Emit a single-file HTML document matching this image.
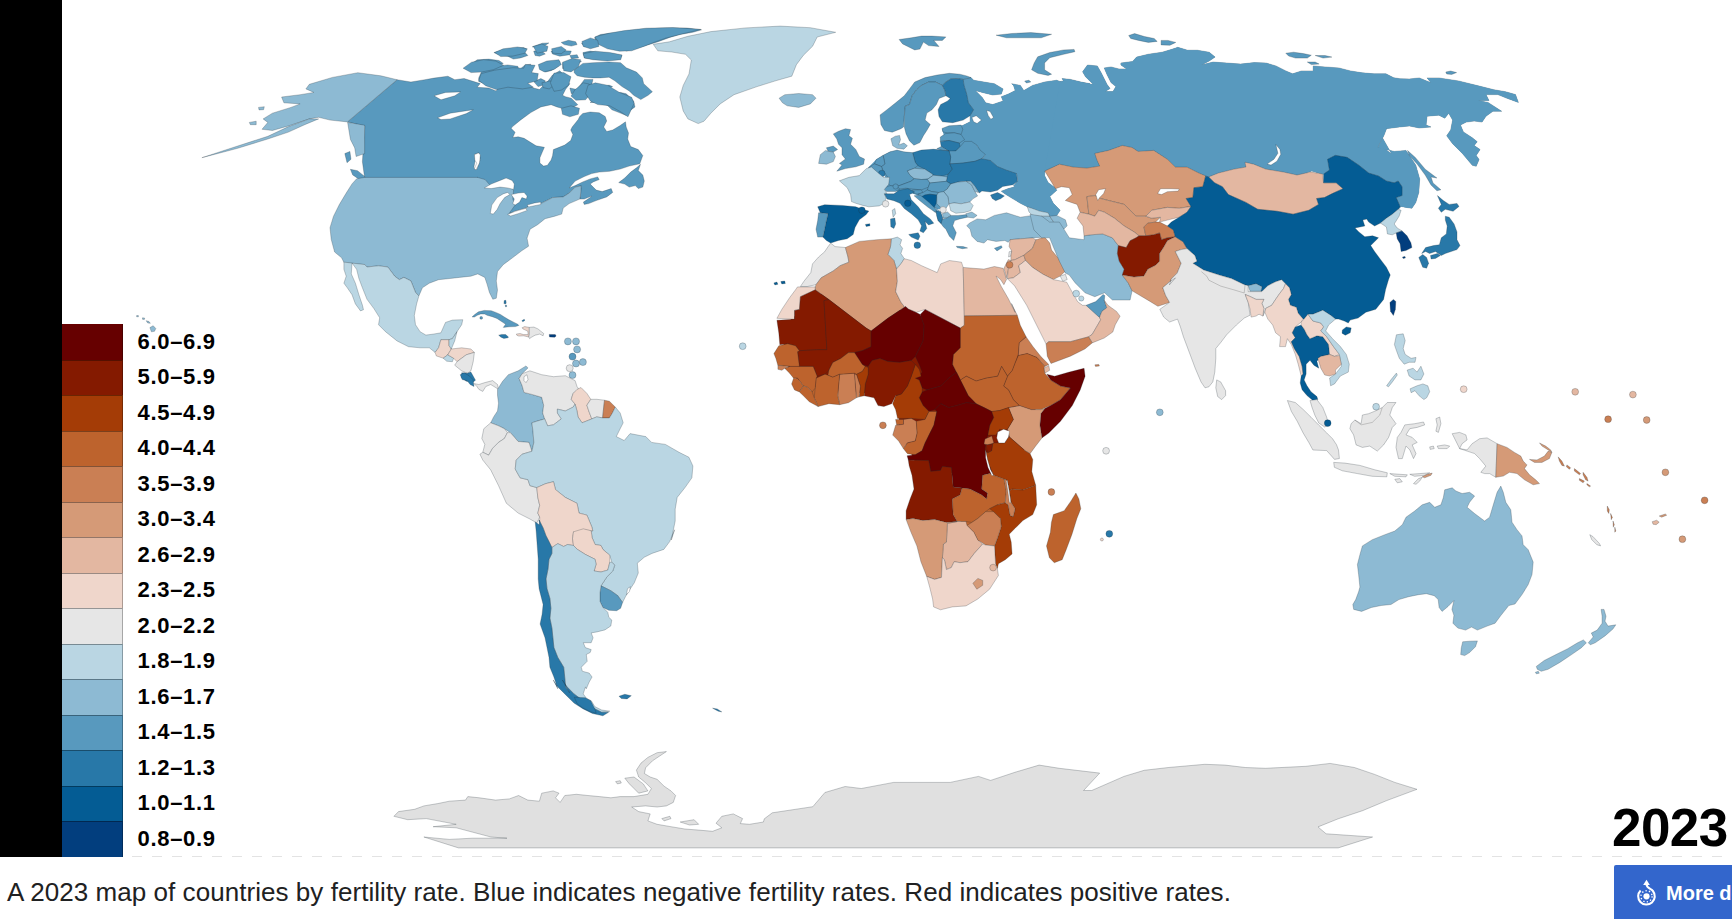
<!DOCTYPE html>
<html lang="en"><head><meta charset="utf-8"><title>Fertility rate map 2023</title>
<style>
html,body{margin:0;padding:0;background:#fff;}
body{width:1732px;height:919px;position:relative;overflow:hidden;font-family:"Liberation Sans",sans-serif;}
#bar{position:absolute;left:0;top:0;width:62px;height:857px;background:#000;}
#map{position:absolute;left:0;top:0;width:1732px;height:919px;}
#map .p{stroke:#1c2a33;stroke-width:.45;stroke-opacity:.55;stroke-linejoin:round;}
#map .n{stroke:none;}
#legend{position:absolute;left:62px;top:324px;width:200px;}
#legend .row{height:35.5px;display:flex;align-items:center;}
#legend .sw{display:block;width:61px;height:35.5px;box-sizing:border-box;border-top:1px solid rgba(0,0,0,.35);border-right:1px solid rgba(0,0,0,.28);}
#legend .row:first-child .sw{border-top:none;}
#legend .lb{margin-left:14.5px;font-weight:700;font-size:22px;letter-spacing:.7px;color:#000;position:relative;top:.1px;}
#dash{position:absolute;left:132px;top:856px;width:1600px;height:1px;background:repeating-linear-gradient(90deg,#e3e3e3 0,#e3e3e3 10px,transparent 10px,transparent 20px);}
#cap{position:absolute;left:7px;top:877px;font-size:26px;letter-spacing:.05px;color:#202122;white-space:nowrap;line-height:30px;}
#year{position:absolute;left:1612px;top:798px;font-size:53px;font-weight:700;color:#000;line-height:60px;white-space:nowrap;letter-spacing:-.6px;}
#btn{position:absolute;left:1614px;top:865px;width:130px;height:60px;background:#3366cc;border-radius:2px;color:#fff;font-weight:700;font-size:20px;white-space:nowrap;}
#btn span{position:absolute;left:52px;top:15px;line-height:26px;}
#btn svg{position:absolute;left:22px;top:14px;}
</style></head><body>
<svg id="map" viewBox="0 0 1732 919" width="1732" height="919">
<polygon class="p" fill="#5899be" points="397.1,79.7 410.9,82 424.8,79.7 434,78.1 447.9,76.2 454.8,79.7 464.1,78.5 480.2,83.6 477.2,87.3 488.8,88 496.1,90.9 499,86.6 510.5,83 522.1,83.7 533.7,88 539.5,89.5 548.2,80.8 552.5,75 559.8,70.7 564.1,75 562.6,82.2 569.9,83.7 565.5,89.5 562.6,95.3 565.5,96.7 571.3,98.2 577.8,104.7 571.3,108.3 562.6,108.6 556.9,106.9 551.1,104.7 540.9,106.9 530.8,112.6 520.7,119.9 512,127.1 511.3,128.5 515.1,132.3 512.8,137.5 518.1,136.8 524.1,138.3 530.1,142.1 536.1,145.8 544.4,147.3 542.1,152.6 539.9,157.8 539.9,163.1 543.6,166.1 547.4,165.3 551.1,160.1 552.6,155.6 553.4,149.6 557.2,148.1 564.7,145.1 570.7,140.6 572.9,134.5 570.7,130 572.2,127 578.2,119.5 579.7,116.5 582.7,113.5 590.2,112 599.2,112.8 605.2,116.5 606.7,121 603.7,127 606.7,131.5 612.7,130 620.2,125.5 625.5,121.8 626.2,127 628.5,133 627.7,139.1 630.7,146.6 638.3,149.6 642.8,155.6 639.8,163.8 629.2,166.1 620.2,169.1 609.7,171.3 599.2,172.1 591.7,173.6 584.2,176.6 575.2,181.1 569.2,187.9 575.2,185.6 582.7,181.9 590.2,178.9 597.7,176.9 599.2,179.6 593.2,181.9 590.2,184.1 596.2,190.1 602.2,191.6 611.2,188.6 612.7,192.4 606.7,196.9 596.2,200.6 588.7,203.6 584.2,204.4 583.4,202.1 590.2,197.6 591.7,196.1 584.2,199.1 579.7,199.1 580.4,196.1 581.2,185.9 575.2,187.1 569.2,193.1 563.2,196.9 552.6,197.6 540.6,203.6 528.6,206.6 525.6,208.1 515.1,211.1 508.3,214.1 503.1,205.1 500.1,193.1 485.1,190.1 477.5,179.6 440,179.6 364.8,179 362.4,161.7 363.6,143.2 364.8,125.9 347.4,121.9"/>
<polygon class="p" fill="#5899be" points="618.7,182.6 624.7,178.1 630.7,172.1 636.8,167.6 640.5,164.3 638.3,170.6 642.8,175.1 644.3,181.1 642.8,187.1 638.3,188.6 635.3,185.6 629.2,187.1 624.7,184.1"/>
<polygon class="p" fill="#8dbad3" points="397.1,79.7 380.9,75.8 357.8,72.7 332.4,77.4 309.3,84.3 305.9,88.9 313.9,92.4 300.1,94.7 281.6,97 283.9,102.8 300.1,103.9 290.9,107.4 272.4,113.2 263.1,118.9 267.8,122.4 262,129.3 272.4,130.5 288.5,125.9 309.3,118.9 318.6,117.3 330.1,120.1 347.4,121.9"/>
<polygon class="p" fill="#8dbad3" points="309.3,118.9 288.5,126.6 267.8,136.3 237.7,146 201.9,157.7 237.7,148.3 267.8,139 288.5,132.1 304.7,124.7 318.6,118.9"/>
<polygon class="p" fill="#8dbad3" points="347.6,122.4 364.6,125.2 364.6,153.6 356.1,156.5 354.7,147.9 350.4,139.4 349,130.9"/>
<polygon class="p" fill="#5899be" points="344.8,153.6 349.9,151.4 351,159.3 347,162.7"/>
<polygon class="p" fill="#5899be" points="350.4,169.3 357.5,170.7 364.6,176.4 365.2,180.6 359,179.2 352.7,174.9"/>
<polygon class="p" fill="#8dbad3" points="249.3,122.4 256.2,121.2 256.2,124.7 250.4,124.7"/>
<polygon class="p" fill="#8dbad3" points="258.5,107.4 264.3,106.7 263.6,109.7 259,109.9"/>
<polygon class="p" fill="#ffffff" points="434,95.8 445.6,92.4 460.6,91.9 454.8,95.8 441,99.8"/>
<polygon class="p" fill="#ffffff" points="437.5,117.8 450.2,113.2 473.3,109.7 466.4,113.6 450.2,118.9 441,119.6"/>
<polygon class="p" fill="#ffffff" points="474.5,154.3 479.1,152.9 480.2,159.4 476.8,169.7 473.8,167.4 475.2,160.5"/>
<polygon class="p" fill="#5899be" points="616.2,33 629.2,30.9 643.7,29 665.4,28 687.1,28 701.6,29.8 692.9,32.3 679.9,34.5 669.8,37.4 658.2,41.7 646.6,45.3 636.5,48.2 626.3,51.1 622,49 614.8,47.5 609,46.1 600.3,44.6 595.9,41 594.5,37.4 600.3,34.5 609,33.3"/>
<polygon class="p" fill="#5899be" points="582.9,52.6 590.2,51.1 600.3,52.6 614.8,54 622,55.5 620.6,57.9 609,59.1 594.5,59.1 584.4,57.9"/>
<polygon class="p" fill="#5899be" points="493.9,52.6 503.3,49.7 513.4,48.2 523.6,47.5 526.5,49 519.2,51.1 525,52.6 527.9,55.5 520.7,57.9 513.4,59.1 507.6,56.2 499,54.7"/>
<polygon class="p" fill="#5899be" points="532.2,46.8 542.4,43.2 548.9,42.9 545.3,45.3 536.6,47.5"/>
<polygon class="p" fill="#5899be" points="533.7,51.1 540.9,50.4 545.3,54 539.5,56.2 535.1,55.5"/>
<polygon class="p" fill="#5899be" points="561.2,42.4 568.4,40.3 575.7,41.7 577.1,44.6 571.3,46.1 564.1,44.6"/>
<polygon class="p" fill="#5899be" points="551.1,51.1 559.8,50.4 571.3,51.1 569.9,54.7 559.8,56.2 552.5,54"/>
<polygon class="p" fill="#5899be" points="581.5,43.2 588.7,42.4 591.6,45.3 584.4,46.8"/>
<polygon class="p" fill="#5899be" points="569.9,55.5 577.1,54.7 578.6,57.9 571.3,58.4"/>
<polygon class="p" fill="#5899be" points="470,64.9 477.2,59.8 488.8,59.1 499,60.5 503.3,63.4 496.1,65.6 484.5,67.8 475.8,70.7 470,71.8"/>
<polygon class="p" fill="#5899be" points="478.7,77.9 481.6,71.4 496.1,66.3 507.6,64.9 517.8,66.3 519.2,69.9 525,64.9 530.8,64.2 527.9,70.7 525,75.7 530.8,77.9 522.1,81.5 512,81.5 499,83.7 487.4,84.4 478.7,81.5"/>
<polygon class="p" fill="#5899be" points="539.5,66.3 548.2,62.7 559.8,61.3 558.3,66.3 551.1,70.7 545.3,72.1"/>
<polygon class="p" fill="#5899be" points="562.6,63.4 571.3,61.3 581.5,61.3 574.2,66.3 567,69.2 562.6,68.5"/>
<polygon class="p" fill="#5899be" points="533.7,81.5 540.9,78.6 545.3,80.8 543.8,85.1 538,86.6"/>
<polygon class="p" fill="#5899be" points="574.2,69.9 582.9,63.4 593,62.7 609,62 620.6,62.7 626.3,67.8 636.5,72.1 642.3,77.9 643.7,83.7 652.4,91.7 648.1,95.3 640.8,99.6 633.6,95.3 629.2,90.9 622,86.6 614.8,80.8 609,77.2 600.3,77.9 593,77.9 584.4,77.2 577.1,75.7 574.2,72.8"/>
<polygon class="p" fill="#5899be" points="620.6,92.4 626.3,93.8 633.6,101.1 635,106.9 629.2,111.2 626.3,115.5 619.1,112.6 611.9,109.8 607.5,105.4 600.3,102.5 590.2,102.5 594.5,98.9 607.5,98.2 611.9,93.8"/>
<polygon class="p" fill="#5899be" points="577.1,89.5 584.4,79.4 593,79.4 591.6,85.1 585.8,89.5 580,92.4 571.3,93.8 569.9,88"/>
<polygon class="p" fill="#5899be" points="602.5,87.3 609,85.1 612.6,86.6 607.5,89.5 603.2,89.8"/>
<polygon class="p" fill="#8dbad3" points="364.7,177.4 477.8,177.4 477.5,177.4 485.1,179.6 491.1,186.4 507.6,185.6 513.6,190.1 512.8,199.1 515.1,205.1 509.1,213.4 518.1,211.9 526.4,208.4 527.9,205.9 540.9,203.6 552.6,197.6 563.2,196.9 569.2,193.1 575.2,187.1 581.2,185.9 580.4,196.1 579.7,199.1 569.2,203.6 563.2,208.1 561.7,214.1 554.1,216.4 545.1,218.7 537.6,224.7 530.1,229.2 527.1,238 527,237.9 528.6,246.2 521.7,250.8 512.5,257.8 503.2,264.7 497.5,271.6 496.3,280.9 497.5,290.1 496.3,298.2 492.8,299.3 489.4,292.4 487.1,284.3 484.8,277.4 477.8,273.9 470.9,276.2 459.4,277.4 450.1,278.5 438.6,279.7 429.3,283.2 422.4,287.8 418.9,295.9 415.5,292.4 410.9,280.9 403.9,277.4 399.3,279.7 394.7,276.2 387.8,267 378.5,265.8 367,267 364.7,264.7 343.9,262.4 341.6,257.8 334.6,252 331.2,239.3 330,227.7 333.5,216.2 339.3,204.6 346.2,193.1 352,183.9 356.6,178.8"/>
<polygon class="p" fill="#ffffff" points="484.3,187.9 491.1,184.1 500.1,180.4 506.1,178.1 512.1,180.4 514.3,184.1 513.6,189.4 507.6,187.9 500.1,187.1 491.1,188.6"/>
<polygon class="p" fill="#ffffff" points="490.3,213.4 491.8,205.1 497.1,197.6 503.1,193.9 507.6,192.4 509.8,194.6 504.6,197.6 500.1,203.6 497.1,209.6 493.3,214.1"/>
<polygon class="p" fill="#ffffff" points="511.3,194.6 518.1,193.1 524.1,192.4 527.1,196.1 526.4,199.1 521.9,197.6 519.6,202.1 515.1,205.1 512.8,203.6 514.3,199.1"/>
<polygon class="p" fill="#ffffff" points="507.6,214.4 515.1,211.4 525.6,208.4 527.1,210.4 518.1,213.7 510.6,216"/>
<polygon class="p" fill="#ffffff" points="527.1,205.1 534.6,202.9 540.6,202.1 540.9,204.4 533.1,206 528.6,206.9"/>
<polygon class="p" fill="#ffffff" points="474.5,154.8 478.3,152.9 480.3,154.8 479.4,163.1 476,169.8 474.2,169.1 476.8,163.1 474.8,160.1"/>
<polygon class="p" fill="#bad6e3" points="352,263.1 364.7,264.5 367,267 378.5,265.8 387.8,267 394.7,276.2 399.3,279.7 403.9,277.4 410.9,280.9 415.5,292.4 418.9,295.9 416.6,303.9 414.3,315.5 415.5,324.7 420.1,331.7 425.9,335.1 433.9,334 440.9,332.8 445.5,322.4 452.4,320.1 462.8,319.7 461.7,324.7 457,331.7 452.4,338.6 449,339.7 440.9,339.7 438.6,347.8 435.1,352.4 429.3,347.8 420.1,347.8 408.5,346.7 397,340.9 385.5,331.7 378.5,324.7 379.7,317.8 373.9,308.6 367,299.3 362.4,287.8 358.9,278.5 356.6,269.3"/>
<polygon class="p" fill="#bad6e3" points="343.9,262.1 352,263.1 351.3,273.9 355.4,283.2 358.9,294.7 362.4,305.1 363.5,309.7 360.5,310.9 355.4,303.9 352,294.7 347.3,287.8 343.9,283.2 346.2,276.2 343.9,269.3"/>
<polygon class="p" fill="#efd6cb" points="440.9,339.7 449,339.7 449,345.5 451.3,349 447.8,354.8 443.2,358.2 436.3,355.9 435.1,352.4 438.6,347.8"/>
<polygon class="p" fill="#bad6e3" points="449,339.7 452.4,338.6 457,331.7 454.7,340.9 451.3,349 449,345.5"/>
<polygon class="p" fill="#bad6e3" points="443.2,358.2 447.8,354.8 453.6,358.2 452.4,361.7 446.7,361.2"/>
<polygon class="p" fill="#efd6cb" points="451.3,349 461.7,347.8 470.9,349 474.4,352.4 466.3,354.8 461.7,358.2 457,361.7 453.6,358.2 447.8,354.8"/>
<polygon class="p" fill="#e6e6e6" points="457,361.7 461.7,358.2 466.3,354.8 474.4,352.4 473.2,361.7 470.9,370.9 467.4,373.2 461.7,370.9 454.7,365.2"/>
<polygon class="p" fill="#2878a8" points="461.7,372.8 467.4,373.2 470.9,372.1 475.5,380.2 473.2,382 466.3,381.3 461.7,377.9"/>
<circle class="p" fill="#8dbad3" cx="567.9" cy="341.4" r="3.5"/>
<circle class="p" fill="#8dbad3" cx="576" cy="341.4" r="3.5"/>
<circle class="p" fill="#8dbad3" cx="577.1" cy="349.4" r="3.5"/>
<circle class="p" fill="#8dbad3" cx="576" cy="363.5" r="3.5"/>
<circle class="p" fill="#8dbad3" cx="582.9" cy="362.1" r="3.5"/>
<circle class="p" fill="#8dbad3" cx="572.5" cy="375.1" r="3.5"/>
<circle class="p" fill="#5899be" cx="572.5" cy="356.6" r="3.5"/>
<circle class="p" fill="#e6e6e6" cx="569.7" cy="368.2" r="3.5"/>
<polygon class="p" fill="#bad6e3" points="653.2,44.3 669.4,41.8 687.9,36.3 710.9,31.6 745.6,27.9 780.2,26.1 810.3,27.7 835.7,32.3 817.2,37 812.6,46.2 803.3,55.4 796.4,64.7 791.8,76.2 775.6,80.8 757.1,86.6 734,94.7 720.2,103.9 710.9,113.2 704,121.2 698.2,123.6 687.9,118.9 683.2,110.9 679.8,97 683.2,85.5 689,73.9 691.3,60 685.5,54.3 671.7,52 657.8,50.8"/>
<polygon class="p" fill="#8dbad3" points="779.1,98.2 784.8,94.7 798.7,93.5 812.6,94.7 816,98.2 810.3,103.9 798.7,107.4 787.2,105.8 782.5,102.8"/>
<polygon class="p" fill="#5899be" points="478.8,80.4 481.2,73.6 494.6,70.2 512.8,67.7 523.7,68.2 525.4,64.4 535.1,65.3 531.7,72.6 538.3,73.6 537.1,80.8 527.8,83.3 533.4,87.2 522.5,88.9 507.9,87.2 496.3,89.6 485.6,85.7"/>
<polygon class="p" fill="#5899be" points="538.3,64.6 546.8,61 558.9,59.7 561.3,64.6 554,69.4 544.3,71.9 539.5,69.4"/>
<polygon class="p" fill="#5899be" points="562.5,62.2 572.2,58.5 580.7,59.7 578.3,67 571,71.9 563.7,70.7"/>
<polygon class="p" fill="#5899be" points="541.9,82.8 550.4,80.8 554,85.2 549.2,88.9 543.1,87.6"/>
<polygon class="p" fill="#5899be" points="554,73.1 563.7,72.6 571,76.7 568.6,85.2 561.3,90.1 554,91.3 550.4,82.8"/>
<polygon class="p" fill="#5899be" points="574.7,90.1 583.2,82.8 589.2,84 591.6,92.5 585.6,99.8 575.9,100.3 571,96.1"/>
<polygon class="p" fill="#5899be" points="561.3,108.3 571,105.8 579.5,108.3 578.3,114.3 569.8,116.8 562.5,114.3"/>
<polygon class="p" fill="#5899be" points="595.3,82.8 607.4,85.2 619.6,92.5 631.7,97.3 634.1,103.4 628,116.8 620.8,111.9 609.8,105.8 597.7,104.6 590.4,101 585.6,93.7 588,85.2"/>
<polygon class="p" fill="#5899be" points="583.2,53.7 595.3,51.2 609.8,52.5 622,54.9 620.8,59.7 607.4,61 592.9,59.7 584.4,58"/>
<polygon class="p" fill="#5899be" points="595.3,36.7 609.8,33.1 624.4,30.6 646.2,28.2 672.9,27.5 700.8,29.4 682.6,33.8 665.7,38.1 653.5,42.5 643.8,46.4 631.7,50.8 619.6,51.2 607.4,48.8 597.7,44"/>
<polygon class="p" fill="#5899be" points="581.9,41.5 590.4,37.9 597.7,40.3 598.9,46.4 590.4,48.8 583.2,46.4"/>
<polygon class="p" fill="#5899be" points="494.6,52.5 503.1,48.8 517.6,46.9 527.3,48.8 524.9,53.2 512.8,56.1 500.7,56.6"/>
<polygon class="p" fill="#5899be" points="533.4,46.4 541.9,44 548,46.4 546.8,51.2 537.1,53.2"/>
<polygon class="p" fill="#5899be" points="551.6,48.8 561.3,46.4 566.2,50 561.3,53.7 552.8,53.2"/>
<polygon class="p" fill="#5899be" points="463.1,68.2 471.5,62.2 483.7,59.7 495.8,61 503.6,65.3 493.4,69.7 481.2,72.1 471.1,72.6"/>
<polygon class="p" fill="#5899be" points="472.1,317 474.4,314.7 478.5,311.8 484.2,310.4 491.2,310.7 495.8,312.4 500.4,314.4 503.9,316.7 508.5,319.6 513.1,321.9 517.7,324.2 518.9,325.4 515.4,326.6 509.1,326.8 503.3,327.4 505.6,324.2 503.9,323.1 500.4,320.8 497,318.5 492.3,316.7 487.1,315.3 484.8,314.1 480.8,313.9 477.3,315.3 474.4,317"/>
<circle class="p" fill="#5899be" cx="481.2" cy="317.9" r="1.4"/>
<polygon class="p" fill="#2878a8" points="498.7,335.2 501.6,334.4 505.6,334.6 508.5,337 507.9,337.8 503.9,338.4 501,337.2"/>
<polygon class="p" fill="#efd6cb" points="516.3,334.1 520,333.5 523.5,334.6 528.1,334.6 527.8,331.2 522.9,328.9 522.1,327.7 524.7,326.6 529.3,327.4 529.3,334.6 528.7,337 523.5,335.8 518.9,336.1 516.9,335.3"/>
<polygon class="p" fill="#e6e6e6" points="529.3,327.4 533.9,327.1 537.9,328.9 540.8,331.2 543.7,333.5 543.1,335.8 539.7,334.1 535.1,335.2 531,337.5 529.6,338.7 528.7,337 529.3,334.6"/>
<polygon class="p" fill="#023e7e" points="549.2,334.4 555.3,334.6 556.1,336.1 554.7,337.2 549.5,337"/>
<polygon class="p" fill="#2878a8" points="504.2,300.6 505.9,300.3 506.2,302.9 505.6,304 503.9,303.5"/>
<polygon class="p" fill="#2878a8" points="505.3,305.2 506.5,305.2 506.7,306.6 505.5,306.8"/>
<polygon class="p" fill="#2878a8" points="521.8,320.8 524.1,319.3 525,320.2 522.9,321.8"/>
<polygon class="p" fill="#2878a8" points="460.2,374.7 464.2,372.8 469.1,375.7 473,379.6 474,386.5 470.1,384.5 467.1,380.6 462.2,379.6"/>
<polygon class="p" fill="#e6e6e6" points="474,383.6 478.9,384.5 484.8,382.6 492.6,380.6 497.5,384.5 498.5,389.4 495.6,387.5 490.7,384.5 485.8,386.5 482.8,391.4 478.9,389.4 476.9,386.5"/>
<polygon class="p" fill="#8dbad3" points="497.5,389.4 502.4,381.6 508.3,374.7 518.2,370.8 526,365.9 528,367.9 522.1,373.7 519.1,378.6 522.1,385.5 524,392.4 531.9,394.4 541.7,397.3 543.7,405.2 542.7,413 544.7,418.9 537.8,420.9 531.9,422.8 532.9,430.7 533.9,442.4 531.9,451.3 529,442.4 518.2,441.5 510.3,432.6 504.4,428.7 498.5,425.8 490.7,422.8 493.6,416.9 497.5,411 498.5,403.2 497.5,395.3"/>
<polygon class="p" fill="#e6e6e6" points="519.1,378.6 522.1,373.7 529.9,370.8 541.7,374.7 553.5,376.7 565.3,375.7 575.1,380.6 577,386.5 579,389.4 573.1,393.4 571.2,399.3 575.1,404.2 573.1,407.1 565.3,411 557.4,409.1 557.4,413 561.3,418.9 553.5,424.8 547.6,425.8 544.7,418.9 542.7,413 543.7,405.2 541.7,397.3 531.9,394.4 524,392.4 522.1,385.5"/>
<polygon class="p" fill="#ffffff" points="524,376.7 527,374.7 528,379.6 526,382.6 524,380.6"/>
<polygon class="p" fill="#efd6cb" points="577,389.4 581,387.5 586.9,393.4 590.8,399.3 586.9,405.2 588.8,411 591.8,418.9 586.9,420.9 582,422.8 578,416.9 577,411 575.1,404.2 571.2,399.3 573.1,393.4"/>
<polygon class="p" fill="#e6e6e6" points="590.8,399.3 596.7,399.3 604.5,400.2 603.5,409.1 602.6,417.9 596.7,416.9 591.8,418.9 588.8,411 586.9,405.2"/>
<polygon class="p" fill="#ca7f54" points="604.5,400.2 609.4,401.2 615.3,407.1 612.4,413 609.4,417.9 602.6,417.9 603.5,409.1"/>
<polygon class="p" fill="#e6e6e6" points="490.7,422.8 498.5,425.8 504.4,428.7 507.4,432.6 504.4,438.5 498.5,442.4 492.6,448.3 488.7,455.2 482.8,452.3 484.8,444.4 481.8,438.5 483.8,428.7"/>
<polygon class="p" fill="#e6e6e6" points="482.8,452.3 488.7,455.2 492.6,448.3 498.5,442.4 504.4,438.5 507.4,432.6 510.3,432.6 518.2,441.5 529,442.4 531.9,451.3 522.1,454.2 516.2,460.1 515.2,469 520.1,477.8 528,479.7 529.9,485.6 536.8,487.6 537.8,497.4 539.7,505.3 537.8,513.1 539.7,517 536.8,522.9 529.9,519 518.2,513.1 506.4,503.3 498.5,485.6 490.7,469.9 482.8,460.1 479.9,454.2"/>
<polygon class="p" fill="#bad6e3" points="531.9,422.8 537.8,420.9 544.7,418.9 547.6,425.8 553.5,424.8 561.3,418.9 557.4,413 557.4,409.1 565.3,411 573.1,407.1 575.1,404.2 577,411 578,416.9 582,422.8 586.9,420.9 591.8,418.9 596.7,416.9 602.6,417.9 609.4,417.9 612.4,413 615.3,407.1 620.2,413 623.2,422.8 620.2,428.7 616.3,436.6 624.2,440.5 630.1,433.6 645.8,436.6 651.6,442.4 665.4,444.4 679.1,452.3 688.9,457.2 692.9,466 691.9,477.8 685,487.6 677.2,497.4 675.2,509.2 675.2,521 673.2,530.8 671.3,540 674.6,529.8 669.7,541.6 663.8,549.4 652,553.4 644.2,557.3 637.3,563.2 638.3,573 634.3,582.8 630.4,588.7 625.5,596.6 622.6,602.4 617.7,595.6 610.8,590.7 601,585.8 606.9,576.9 612.8,571 614.7,565.2 611.8,562.2 609.8,555.3 602.9,549.4 601,545.5 595.1,544.5 592.1,537.7 591.2,530.8 592.8,530.8 591.8,526.9 586.9,515.1 579,513.1 577,503.3 565.3,497.4 555.5,489.6 553.5,481.7 545.6,483.7 536.8,487.6 529.9,485.6 528,479.7 520.1,477.8 515.2,469 516.2,460.1 522.1,454.2 531.9,451.3 533.9,442.4 532.9,430.7"/>
<polygon class="p" fill="#efd6cb" points="536.8,487.6 545.6,483.7 553.5,481.7 555.5,489.6 565.3,497.4 577,503.3 579,513.1 586.9,515.1 591.8,526.9 592.8,530.8 582.9,529.8 575.1,532.8 573.5,531.8 572.5,538.6 573.5,545.5 567.6,544.5 563.7,546.5 557.8,543.6 551.9,547.5 549,541.6 546,535.7 543.1,527.9 539.1,520 539.7,524.9 539.7,517 537.8,513.1 539.7,505.3 537.8,497.4"/>
<polygon class="p" fill="#efd6cb" points="573.5,531.8 583.3,528.8 591.2,530.8 592.1,537.7 595.1,544.5 601,545.5 602.9,549.4 609.8,555.3 609.8,562.2 607.8,570.1 601,572 594.1,571 596.1,564.2 595.1,559.3 585.3,554.4 577.4,549.4 573.5,545.5 572.5,538.6"/>
<polygon class="p" fill="#5899be" points="601,585.8 610.8,590.7 617.7,595.6 622.6,602.4 620.6,608.3 616.7,610.7 608.8,610.3 602.9,607.4 600,601.5 600,592.6"/>
<polygon class="p" fill="#bad6e3" points="551.9,547.5 557.8,543.6 563.7,546.5 567.6,544.5 573.5,545.5 577.4,549.4 585.3,554.4 595.1,559.3 596.1,564.2 594.1,571 601,572 607.8,570.1 609.8,562.2 611.8,562.2 614.7,565.2 612.8,571 606.9,576.9 601,585.8 600,592.6 600,601.5 602.9,607.4 607.8,612.3 608.8,617.2 611.8,620.1 610.8,626 604.9,629.9 597,631.9 591.2,632.9 593.1,637.8 591.2,642.7 583.3,642.7 585.3,647.6 591.2,649.6 590.2,652.5 586.3,654.5 587.2,661.3 581.3,667.2 582.3,671.2 589.2,673.1 592.1,677 589.2,682 586.3,688.8 585.5,686.9 583.2,693.9 586.7,698.5 591.3,700.8 594.8,706.6 601.7,710 609.8,711.2 601.7,712.3 592.5,707.7 583.2,700.8 574,693.9 567.1,686.9 562.4,680 569.6,692.8 565.6,686.9 564.7,677 563.7,667.2 557.8,657.4 553.9,647.6 552.9,637.8 551.9,628 549.9,618.2 550.9,608.3 549.9,598.5 547,588.7 546,578.9 548,569.1 549,559.3 551.9,553.4"/>
<polygon class="p" fill="#2878a8" points="536.8,522.9 539.7,524.9 539.1,520 543.1,527.9 546,535.7 549,541.6 551.9,547.5 551.9,553.4 549,559.3 548,569.1 546,578.9 547,588.7 549.9,598.5 550.9,608.3 549.9,618.2 551.9,628 552.9,637.8 553.9,647.6 557.8,657.4 563.7,667.2 564.7,677 565.6,686.9 569.6,692.8 562.4,680 567.1,686.9 574,693.9 583.2,700.8 592.5,707.7 601.7,712.3 608.6,712.3 602.9,715.8 592.5,713.5 583.2,708.9 574,703.1 564.8,693.9 557.8,686.9 553.2,680 557.8,688.8 553.9,677 549.9,667.2 549,657.4 547,647.6 545,637.8 540.1,624 542.1,614.2 543.1,604.4 539.1,588.7 538.2,578.9 538.2,559.3 537.2,545.5 536.2,531.8 535.2,522"/>
<polygon class="p" fill="#ffffff" points="627.5,588.7 630.4,586.7 629.4,591.7 626.5,594.6"/>
<polygon class="p" fill="#2878a8" points="619,696.2 624.8,694.3 631.3,695.7 627.1,698.9 621.3,698.5"/>
<polygon class="p" fill="#2878a8" points="712.6,708.2 717.2,708.9 721.8,711.9 718.3,711.2"/>
<polygon class="p" fill="#2878a8" points="574.4,697.3 585.3,697.7 590.7,700.7 594.8,708.8 596.2,713.2 590.7,711.8 582.6,707.8 577.1,703.7"/>
<circle class="p" fill="#bad6e3" cx="742.7" cy="346.2" r="3.4"/>
<polygon class="p" fill="#5899be" points="971,77.6 973.6,80.2 984,82 994.4,83.7 1003.1,88.9 1001.3,94.1 992.7,95 982.3,92.4 975.3,90.6 982.3,97.6 985.7,102.8 992.7,104.5 1003.1,101 1001.3,96.7 1008.3,94.1 1015.2,90.6 1013.5,85.4 1011.7,83.7 1020.4,85.4 1023.8,90.6 1032.5,85.4 1044.6,82 1056.8,80.2 1065.4,83.7 1062,78.5 1070.6,79.4 1081,82 1090,83.7 1090,166.8 1075.8,166.8 1060.2,163.4 1049.8,168.6 1044.6,172 1044.6,175.6 1048.1,182.5 1055,187.7 1056.8,190.3 1049.8,196.4 1053.3,203.3 1060.2,210.2 1056.8,215.4 1049.8,216.3 1048.1,212.8 1039.4,211.1 1032.5,208.5 1027.3,206.8 1020.4,203.3 1011.7,198.1 1004.8,193.8 1001.3,191.2 1008.3,188.6 1015.2,186.8 1013.5,186 1017.8,180.8 1016.9,173.8 1006.5,170.3 997.9,166.8 990.9,160.8 982.3,159 985.7,154.7 980.5,151.3 977.1,145.2 971.9,142.6 965,142.6 965,140.9 961.5,135.7 963.2,130.5 961.5,126.1 970.1,121.8 970.1,115.7 973.6,109.7 968.4,102.8 966.7,94.1 964.1,85.4 963.2,79.4"/>
<polygon class="p" fill="#5899be" points="1060,81.7 1067.9,79.7 1081.6,82.6 1093.4,84.6 1085.5,76.7 1082.6,71.8 1087.5,65 1097.3,65.9 1101.2,72.8 1107.1,84.6 1110.1,88.5 1105.2,91.5 1113,91.5 1115.9,86.6 1111,82.6 1107.1,74.8 1104.2,67.9 1111,66.9 1118.9,68.9 1126.7,68.9 1120.9,65 1120.9,63 1132.6,61.4 1136.6,57.1 1148.3,54.2 1162.1,52.2 1171.9,49.3 1177.8,47.3 1187.6,50.2 1197.4,50.2 1209.2,52.2 1215.1,57.1 1209.2,61 1201.3,65 1213.1,62 1226.9,63 1240.6,64 1254.3,62.6 1266.1,63 1275.9,65.9 1285.8,70.9 1292.6,73.8 1301.5,70.9 1313.2,70.9 1313.2,65.9 1325,66.9 1338.8,67.9 1350.5,70.9 1362.3,72.8 1374.1,73.8 1385.9,73.8 1393.7,77.7 1400,78.7 1409.4,78.9 1419.3,77.9 1431,82.8 1427.1,77.9 1438.9,77.9 1458.5,80.9 1478.2,85.8 1493.9,89.7 1505.6,91.7 1515.5,94.6 1518.4,102.4 1507.6,98.5 1497.8,94.6 1486,94.6 1489,100.5 1478.2,100.5 1488,102.4 1501.7,111.3 1492.9,111.3 1486,116.2 1482.1,122.1 1474.2,121.1 1466.4,122.1 1460.5,125 1463.4,131.9 1472.3,137.8 1477.2,141.7 1474.2,145.6 1480.1,149.6 1476.2,155.5 1479.1,159.4 1476.2,166.3 1472.3,165.3 1462.4,153.5 1452.6,143.7 1446.7,135.8 1450.7,129.9 1452.6,120.1 1448.7,113.2 1444.8,118.2 1438.9,115.2 1427.1,116.2 1426.1,125 1431,127 1419.3,128 1409.4,126 1399.6,127 1383.9,129 1386.9,127.8 1383.9,135.6 1378,147.4 1385.9,149.4 1391.8,154.3 1382.4,137.7 1377.5,147.5 1386.4,149.4 1394.2,151.4 1406,150.4 1415.8,165.2 1419.7,178.9 1418.8,192.6 1415.8,202.4 1411.9,208.3 1406,207.4 1401.1,206.4 1398.2,209.3 1400.1,206.4 1396.2,197.5 1402.1,195.6 1402.1,186.7 1398.2,180.9 1394.2,182.8 1386.4,180.9 1378.5,175.9 1368.7,173 1358.9,165.2 1347.1,157.3 1335.3,155.3 1327.5,159.3 1329.4,170.1 1323.6,174 1321.6,174 1311.8,171 1300,175 1297,175 1283.2,172 1265.6,169.1 1253.8,164.2 1245,162.2 1245.9,167.1 1234.2,169.1 1218.5,173 1208.6,176.9 1205.7,175.9 1198.8,173 1187,167.1 1175.3,167.1 1167.4,159.3 1153.7,150.4 1138,151.4 1132.1,147.5 1122.3,145.5 1108.5,150.4 1094.8,153.4 1096.7,159.3 1099.7,166.1 1086.9,168.1 1073.2,167.1 1059.4,164.2 1044.7,171"/>
<polygon class="n" fill="#5899be" points="971,77.6 973.6,80.2 984,82 994.4,83.7 1003.1,88.9 1001.3,94.1 992.7,95 982.3,92.4 975.3,90.6 982.3,97.6 985.7,102.8 992.7,104.5 1003.1,101 1001.3,96.7 1008.3,94.1 1015.2,90.6 1013.5,85.4 1011.7,83.7 1020.4,85.4 1023.8,90.6 1032.5,85.4 1044.6,82 1056.8,80.2 1065.4,83.7 1062,78.5 1070.6,79.4 1081,82 1090,83.7 1090,166.8 1075.8,166.8 1060.2,163.4 1049.8,168.6 1044.6,172 1044.6,175.6 1048.1,182.5 1055,187.7 1056.8,190.3 1049.8,196.4 1053.3,203.3 1060.2,210.2 1056.8,215.4 1049.8,216.3 1048.1,212.8 1039.4,211.1 1032.5,208.5 1027.3,206.8 1020.4,203.3 1011.7,198.1 1004.8,193.8 1001.3,191.2 1008.3,188.6 1015.2,186.8 1013.5,186 1017.8,180.8 1016.9,173.8 1006.5,170.3 997.9,166.8 990.9,160.8 982.3,159 985.7,154.7 980.5,151.3 977.1,145.2 971.9,142.6 965,142.6 965,140.9 961.5,135.7 963.2,130.5 961.5,126.1 970.1,121.8 970.1,115.7 973.6,109.7 968.4,102.8 966.7,94.1 964.1,85.4 963.2,79.4"/>
<polygon class="n" fill="#5899be" points="1060,81.7 1067.9,79.7 1081.6,82.6 1093.4,84.6 1085.5,76.7 1082.6,71.8 1087.5,65 1097.3,65.9 1101.2,72.8 1107.1,84.6 1110.1,88.5 1105.2,91.5 1113,91.5 1115.9,86.6 1111,82.6 1107.1,74.8 1104.2,67.9 1111,66.9 1118.9,68.9 1126.7,68.9 1120.9,65 1120.9,63 1132.6,61.4 1136.6,57.1 1148.3,54.2 1162.1,52.2 1171.9,49.3 1177.8,47.3 1187.6,50.2 1197.4,50.2 1209.2,52.2 1215.1,57.1 1209.2,61 1201.3,65 1213.1,62 1226.9,63 1240.6,64 1254.3,62.6 1266.1,63 1275.9,65.9 1285.8,70.9 1292.6,73.8 1301.5,70.9 1313.2,70.9 1313.2,65.9 1325,66.9 1338.8,67.9 1350.5,70.9 1362.3,72.8 1374.1,73.8 1385.9,73.8 1393.7,77.7 1400,78.7 1409.4,78.9 1419.3,77.9 1431,82.8 1427.1,77.9 1438.9,77.9 1458.5,80.9 1478.2,85.8 1493.9,89.7 1505.6,91.7 1515.5,94.6 1518.4,102.4 1507.6,98.5 1497.8,94.6 1486,94.6 1489,100.5 1478.2,100.5 1488,102.4 1501.7,111.3 1492.9,111.3 1486,116.2 1482.1,122.1 1474.2,121.1 1466.4,122.1 1460.5,125 1463.4,131.9 1472.3,137.8 1477.2,141.7 1474.2,145.6 1480.1,149.6 1476.2,155.5 1479.1,159.4 1476.2,166.3 1472.3,165.3 1462.4,153.5 1452.6,143.7 1446.7,135.8 1450.7,129.9 1452.6,120.1 1448.7,113.2 1444.8,118.2 1438.9,115.2 1427.1,116.2 1426.1,125 1431,127 1419.3,128 1409.4,126 1399.6,127 1383.9,129 1386.9,127.8 1383.9,135.6 1378,147.4 1385.9,149.4 1391.8,154.3 1382.4,137.7 1377.5,147.5 1386.4,149.4 1394.2,151.4 1406,150.4 1415.8,165.2 1419.7,178.9 1418.8,192.6 1415.8,202.4 1411.9,208.3 1406,207.4 1401.1,206.4 1398.2,209.3 1400.1,206.4 1396.2,197.5 1402.1,195.6 1402.1,186.7 1398.2,180.9 1394.2,182.8 1386.4,180.9 1378.5,175.9 1368.7,173 1358.9,165.2 1347.1,157.3 1335.3,155.3 1327.5,159.3 1329.4,170.1 1323.6,174 1321.6,174 1311.8,171 1300,175 1297,175 1283.2,172 1265.6,169.1 1253.8,164.2 1245,162.2 1245.9,167.1 1234.2,169.1 1218.5,173 1208.6,176.9 1205.7,175.9 1198.8,173 1187,167.1 1175.3,167.1 1167.4,159.3 1153.7,150.4 1138,151.4 1132.1,147.5 1122.3,145.5 1108.5,150.4 1094.8,153.4 1096.7,159.3 1099.7,166.1 1086.9,168.1 1073.2,167.1 1059.4,164.2 1044.7,171"/>
<polygon class="p" fill="#ffffff" points="971.9,117.5 976.2,115.7 981.4,120.1 977.1,123.5 973.6,121.8"/>
<polygon class="p" fill="#ffffff" points="986.6,110.5 990.1,111.4 993.5,117.5 990.9,119.2 988.3,115.7"/>
<polygon class="p" fill="#5899be" points="899.1,39.5 911.3,37.8 921.6,36.1 932,36.1 945.9,36.9 942.4,40.4 933.8,40.4 939,46.5 928.6,45.6 923.4,42.1 919.9,49.1 914.7,49.9 907.8,46.5 902.6,43.9"/>
<polygon class="p" fill="#5899be" points="996.1,35.2 1011.7,33.5 1030.8,32.6 1051.6,34.3 1041.2,37.8 1023.8,37.8 1006.5,37.8"/>
<polygon class="p" fill="#5899be" points="1037.7,56.8 1049.8,52.5 1063.7,49.9 1074.1,49.4 1074.9,51.7 1063.7,54.3 1049.8,57.7 1044.6,62.9 1044.6,69.8 1051.6,74.2 1048.1,75.4 1037.7,73.3 1031.6,69.8 1034.2,62.9"/>
<polygon class="p" fill="#5899be" points="1024.7,81.1 1029,80.2 1030.8,82 1026.4,83"/>
<polygon class="p" fill="#5899be" points="880.1,114.9 887,109.7 895.7,102.8 904.3,95.8 909.5,88.9 914.7,82 925.1,77.6 937.2,75 949.4,73.3 959.8,74.2 966.7,75.9 971,77.6 963.2,79.4 956.3,78.5 951.1,78.8 945.9,82 942.4,85.4 935.5,82 928.6,82 921.6,85.4 916.5,89.8 912.1,95.8 909.5,104.5 905.2,106.2 904.3,116.6 903.5,127 900.9,128.7 892.2,132.2 884.4,130.5 880.9,124.4"/>
<polygon class="p" fill="#5899be" points="905.2,106.2 909.5,104.5 912.1,95.8 916.5,89.8 921.6,85.4 928.6,82 935.5,82 942.4,85.4 945,90.6 945.9,95.8 939,98.4 936.4,104.5 932,109.7 926.8,113.1 925.1,120.1 930.3,124.4 926.8,130.5 923.4,135.7 919.9,142.6 913.9,145.2 909.5,140.9 906.1,133.9 904.3,127 904.3,116.6"/>
<polygon class="p" fill="#2878a8" points="942.4,85.4 945.9,82 951.1,78.8 956.3,78.5 963.2,79.4 964.1,85.4 966.7,94.1 968.4,102.8 973.6,109.7 970.1,115.7 963.2,120.1 952.8,122.7 942.4,121.8 939,116.6 938.1,109.7 940.7,104.5 947.6,101 950.2,98.4 945.9,95.8 945,90.6"/>
<polygon class="p" fill="#5899be" points="833.3,133.9 838.5,131.3 845.4,128.7 850.6,129.6 848.9,135.7 852.4,138.3 850.6,144.3 855.8,149.5 859.3,156.5 864.5,159 863.6,164.2 855.8,166.8 845.4,168.6 836.8,171.2 842,165.1 839.4,163.4 845.4,159 842,154.7 842,147.8 838.5,144.3 836.8,139.1"/>
<polygon class="p" fill="#5899be" points="826.4,147.8 833.3,146.1 837.6,149.5 833.3,152.1 828.1,151.3"/>
<polygon class="p" fill="#8dbad3" points="818.6,163.4 820.3,154.7 825.5,150.4 828.1,151.3 833.3,152.1 835.4,156.5 833.3,161.6 826.4,164.2"/>
<polygon class="n" fill="#5899be" points="876.2,159.6 890.1,151.8 912.6,152.7 933.4,149.2 949,150.9 942,129.3 961.1,125 971.5,141.4 985.3,154.4 981.9,158.7 955.9,184.7 949,198.6 945.5,209 931.6,209 921.3,196.8 912.6,193.4 897,191.6 883.1,188.2 886.6,181.3 883.1,170.9 868.4,167.4"/>
<polygon class="p" fill="#8dbad3" points="890.9,138.8 895.3,136.2 899.6,135.4 900.5,139.7 898.7,144.9 903.9,143.1 907.4,145.7 903.9,149.2 897,148.3 892.7,145.7"/>
<polygon class="p" fill="#5899be" points="942,128.4 949,125.8 961.1,125 962.8,129.3 961.1,134.5 954.2,132.8 947.2,132.8 942.9,131.9"/>
<polygon class="p" fill="#5899be" points="940.3,137.1 945.5,133.6 954.2,132.8 961.1,134.5 964.6,139.7 959.4,143.1 949,140.5 940.3,141.4"/>
<polygon class="p" fill="#2878a8" points="940.3,141.4 949,140.5 959.4,143.1 960.2,146.6 955.9,150.9 949.8,151.8 945.5,149.2 941.2,146.6"/>
<polygon class="p" fill="#5899be" points="936.8,148.7 941.2,146.6 945.5,149.2 949.8,151.8 949,150.9 942,150.4"/>
<polygon class="p" fill="#5899be" points="950.7,157 949,150.9 955.9,150.9 960.2,146.6 964.6,141.4 971.5,141.4 976.7,144.9 980.1,150.1 985.3,154.4 981.9,158.7 975,161.3 962.8,163.1 952.4,163.9 949.8,163.9"/>
<polygon class="p" fill="#2878a8" points="912.6,152.7 921.3,150.1 933.4,149.2 949,150.9 950.7,157 949.8,163.9 952.4,169.1 948.1,174.3 942,176.1 933.4,175.2 931.6,173.5 924.7,169.1 917.8,165.7 915.2,162.2"/>
<polygon class="p" fill="#2878a8" points="948.1,174.3 952.4,169.1 949.8,163.9 962.8,163.1 975,161.3 981.9,158.7 990.5,160.5 997.5,166.5 1006.1,170 1016.5,173.5 1017.4,181.3 1013.1,184.7 1002.7,186.5 997.5,190.3 990.5,192 981.9,191 979.3,193 975,186.5 970.6,181.3 966.3,181.3 957.6,182.1 950.7,183.9 946.4,181.3 947.2,176.9"/>
<polygon class="p" fill="#2878a8" points="990.5,195.1 997.5,192.5 1004.4,196 1000.9,198.6 995.7,200.7 992.3,198.6"/>
<polygon class="p" fill="#5899be" points="884.9,163.9 883.1,155.3 890.1,151.8 897,150.1 903.9,151.8 912.6,152.7 915.2,162.2 917.8,165.7 914.3,168.3 907.4,170.9 910,175.2 914.3,178.7 910.9,181.3 903.9,183.9 897,186.5 890.1,185.6 886.6,181.3 888.3,177.8 883.1,170.9 881.4,166.5"/>
<polygon class="p" fill="#5899be" points="876.2,159.6 883.1,155.3 884.9,163.9 881.4,166.5 874.5,163.9"/>
<polygon class="p" fill="#5899be" points="868.4,167.4 874.5,163.9 881.4,166.5 883.1,170.9 877.9,174.3 872.8,170.9"/>
<circle class="p" fill="#2878a8" cx="881.8" cy="173.5" r="3.3"/>
<polygon class="p" fill="#8dbad3" points="907.4,170.9 914.3,168.3 924.7,169.1 931.6,173.5 933.4,175.2 928.2,178.7 921.3,179.5 914.3,178.7 910,175.2"/>
<polygon class="p" fill="#8dbad3" points="927.3,179.5 933.4,175.2 942,176.1 947.2,176.9 946.4,181.3 938.6,182.1 929.9,183"/>
<polygon class="p" fill="#5899be" points="897,186.5 903.9,183.9 910.9,181.3 914.3,178.7 921.3,179.5 927.3,179.5 929.9,183 928.2,187.3 921.3,189.9 912.6,189 905.7,188.2 899.6,189"/>
<polygon class="p" fill="#5899be" points="928.2,187.3 929.9,183 938.6,182.1 946.4,181.3 950.7,183.9 947.2,189 943.8,191.6 938.6,192.5 931.6,191.6 927.3,189.9"/>
<polygon class="p" fill="#5899be" points="912.6,189.9 921.3,189.9 923,192.5 917.8,194.2 913.5,193.4"/>
<polygon class="p" fill="#5899be" points="917.8,194.2 923,192.5 927.3,189.9 931.6,191.6 938.6,192.5 936.8,195.1 929.9,194.2 924.7,195.1 928.2,200.3 933.4,205.5 929.9,204.6 924.7,200.3 921.3,196.8"/>
<polygon class="p" fill="#045c94" points="921.3,196.8 924.7,195.1 929.9,194.2 936.8,195.1 936.8,197.7 936,203.8 933.4,209 928.2,203.8 923,199.4"/>
<polygon class="p" fill="#8dbad3" points="936.8,195.1 938.6,192.5 943.8,191.6 948.1,196.8 949,203.8 945.5,209 940.3,207.2 936.8,203.8 936.8,197.7"/>
<polygon class="p" fill="#8dbad3" points="943.8,191.6 947.2,189 950.7,183.9 957.6,182.1 966.3,181.3 971.5,184.7 975,191.6 977.6,196 973.2,198.6 969.8,202 961.1,203.8 954.2,202.9 949,203.8 948.1,196.8"/>
<polygon class="p" fill="#8dbad3" points="966.3,181.3 970.6,181.3 975,186.5 978.4,192.5 975,191.6 971.5,184.7"/>
<polygon class="p" fill="#bad6e3" points="949,203.8 954.2,202.9 961.1,203.8 969.8,202 973.2,205.5 970.6,210.7 964.6,212.4 955.9,213.3 950.7,210.7"/>
<polygon class="p" fill="#5899be" points="883.1,188.2 890.1,185.6 897,186.5 899.6,189 895.3,191.6 886.6,191.6"/>
<circle class="p" fill="#5899be" cx="895.6" cy="186.5" r="2.6"/>
<polygon class="p" fill="#bad6e3" points="839.4,180.8 848.9,177.3 859.3,175.6 866.2,168.7 871.4,166.9 878.3,173 883.5,177.3 889.6,177.3 888.7,184.3 884.4,189.4 887,193.8 884.4,193.8 886.1,198.1 884.4,203.3 879.2,205.9 868.8,206.8 862.8,205.4 855.8,203.3 851.5,201.6 850.6,194.6 847.2,187.7"/>
<polygon class="p" fill="#bad6e3" points="892.2,210.2 894.8,208.5 895.7,213.7 893.1,217.2"/>
<circle class="p" fill="#e6e6e6" cx="885.6" cy="203.8" r="3.3"/>
<polygon class="p" fill="#045c94" points="817.7,206.8 824.6,204.7 842,205.4 855.8,206.8 862.8,209.4 868.8,211.1 866.2,214.6 859.3,219.8 855,227.6 853.2,234.5 847.2,238.8 838.5,240.5 830.7,243.1 826.4,240.5 822.9,237.1 824.6,229.3 826.4,220.6 828.1,213.7 820.3,212.8"/>
<polygon class="p" fill="#5899be" points="818.6,212.8 820.3,212.8 828.1,213.7 826.4,220.6 824.6,229.3 822.9,237.1 817.7,237.1 816,229.3 817.7,220.6"/>
<circle class="p" fill="#045c94" cx="861.9" cy="210.2" r="3.3"/>
<polygon class="p" fill="#045c94" points="865.4,224.4 869.7,223.7 870,225.8 866.2,226.5"/>
<polygon class="p" fill="#2878a8" points="884.4,193.8 893.9,193.8 899.1,190.3 907.8,188.6 914.7,192 909.5,194.6 911.3,199.8 918.2,206.8 923.4,213.7 930.3,218.9 933.8,223.2 928.6,225 925.1,221.5 926.8,228.4 923.4,232.8 919.9,231 921.6,225.8 918.2,219.8 911.3,213.7 904.3,208.5 900,203.3 893.9,200.7 887,199"/>
<polygon class="p" fill="#2878a8" points="908.7,234.5 918.2,232.8 919.9,236.2 918.2,240 911.3,237.1"/>
<polygon class="p" fill="#2878a8" points="890.5,218.9 894.8,218 895.7,224.1 893.9,228.4 890.8,226.7"/>
<circle class="p" fill="#045c94" cx="907.8" cy="203.3" r="3.3"/>
<circle class="p" fill="#2878a8" cx="917.3" cy="245.2" r="3.3"/>
<polygon class="p" fill="#8dbad3" points="932.9,210.2 935.5,207.6 939,210.2 937.2,213.7"/>
<circle class="p" fill="#e6e6e6" cx="943" cy="209.9" r="3.3"/>
<polygon class="p" fill="#2878a8" points="937.2,212 940.7,213.7 942.4,218.9 940.7,223.2 938.1,220.6 937.2,215.4"/>
<polygon class="p" fill="#8dbad3" points="942.4,213.7 947.6,212 951.1,215.4 946.8,218 943.3,218"/>
<polygon class="p" fill="#5899be" points="940.7,223.2 942.4,218.9 946.8,218 951.1,215.4 958,215.4 966.7,214.6 967.6,217.2 959.8,218.9 954.6,220.6 952.8,225.8 956.3,232.8 953.7,240.5 949.4,236.2 945.9,229.3 943.3,226.7"/>
<polygon class="p" fill="#5899be" points="956.3,246.3 963.2,246.6 967.6,248 962.4,248.7 957.2,247.6"/>
<polygon class="p" fill="#8dbad3" points="969.3,223.2 977.1,218.9 985.7,219.8 994.4,215.4 1006.5,212.8 1020.4,217.2 1032.5,215.4 1041.2,216.3 1044.6,220.6 1049.8,225.8 1044.6,229.3 1044.6,237.1 1032.5,237.9 1020.4,238.8 1010,239.7 1008.3,242.3 1004.8,240.5 996.1,241.4 987.5,239.7 984,243.1 977.1,241.4 971.9,236.2 970.1,229.3 966.7,225.8"/>
<polygon class="p" fill="#8dbad3" points="965.8,213.7 971.9,212 977.1,215.4 973.6,218 967.6,217.2"/>
<polygon class="p" fill="#5899be" points="994.4,248.3 1001.3,245.7 1002.2,247.5 997,250.9"/>
<polygon class="p" fill="#bad6e3" points="1027.3,206.8 1032.5,208.5 1039.4,211.1 1048.1,212.8 1049.8,216.3 1041.2,216.3 1032.5,215.4 1029,212"/>
<polygon class="p" fill="#8dbad3" points="1041.2,216.3 1049.8,216.3 1055,224.1 1051.6,226.7 1046.4,222.4"/>
<polygon class="p" fill="#8dbad3" points="1049.8,216.3 1056.8,215.4 1065.4,219.8 1067.2,225.8 1063.7,229.3 1060.2,225.8 1055,224.1"/>
<polygon class="p" fill="#5899be" points="914.1,195.8 920.2,195 929.2,202.5 936.7,210 935.2,212.3 927.7,207 920.2,201"/>
<polygon class="p" fill="#2878a8" points="935.9,210.8 940.4,211.5 942.7,217.5 941.2,223.6 938.2,220.6 936.7,216"/>
<polygon class="n" fill="#841a00" points="786.7,323.1 820.7,294 905.6,311 959,327.9 1014.8,318.2 1041.5,364.3 1036.6,405.6 1024.5,449.3 988.1,473.5 920.1,473.5 910.4,451.7 898.3,429.8 899.5,410.4 895.9,394.7 823.1,391 796.4,378.9 781.8,357.1"/>
<polygon class="n" fill="#bd632d" points="810.7,387.1 816.2,387.1 817.3,400.3 811.8,395.9"/>
<polygon class="n" fill="#bd632d" points="954.2,498.9 997.4,498.9 1001.3,526.4 977.8,542.1 962.1,526.4"/>
<polygon class="p" fill="#e6e6e6" points="830.7,243.1 835,246.6 845.4,247.5 848,257 848.9,262.2 840.2,265.7 833.3,270.9 821.2,277.8 816,284.7 807.3,286.5 800.4,286.5 803.9,281.3 810.8,272.6 812.5,263.9 818.6,257 824.6,251.8 828.1,246.6"/>
<polygon class="p" fill="#bad6e3" points="891.3,238.8 897.4,237.1 901.7,239.7 900,244.9 902.6,248.3 900.9,253.5 904.3,258.7 900.9,263.9 897.4,267.4 896.5,269.1 893.9,260.5 887.9,254.4 890.5,246.6"/>
<polygon class="p" fill="#d59a77" points="845.4,247.5 859.3,241.4 876.6,239.7 891.3,238.8 890.5,246.6 887.9,254.4 893.9,260.5 896.5,269.1 897.4,281.3 895.7,291.6 900.9,302 906.1,309 905.5,306.5 887.8,318.3 871.1,331 866.2,328.1 828.9,299.6 815.2,289.8 815.2,286.9 816,284.7 821.2,277.8 833.3,270.9 840.2,265.7 848.9,262.2 848,257"/>
<polygon class="p" fill="#efd6cb" points="896.5,269.1 900.9,263.9 904.3,258.7 911.3,260.5 921.6,265.7 937.2,272.6 940.7,263.9 949.4,260.5 961.5,262.2 963.2,267.4 964.3,315.9 964.3,325.2 960.4,328.1 925.1,309.4 916.3,312.4 908.4,309.1 905.5,306.5 906.1,309 900.9,302 895.7,291.6 897.4,281.3"/>
<polygon class="p" fill="#e3b7a1" points="963.2,267.4 973.6,268.3 984,269.1 994.4,266.5 1003.1,268.3 1006.5,279.5 1003.9,284.7 1000.5,279.5 996.1,276.1 1001.3,286.5 1008.3,298.6 1015.2,312.4 1011.5,303.6 1017.3,315.3 964.3,315.9"/>
<polygon class="p" fill="#efd6cb" points="776.9,318.3 781.8,309.4 789.6,297.7 795.5,289.8 797.5,286.9 815.2,286.9 815.2,289.8 800.4,296.7 799.4,309.4 794.5,310.4 794.5,319.3"/>
<polygon class="p" fill="#841a00" points="776.9,320.2 794.5,319.3 794.5,310.4 799.4,309.4 800.4,296.7 815.2,289.8 828.9,299.6 824,300.6 826.9,349.7 819.1,349.7 799.4,350.7 795.5,345.8 787.7,343.8 779.8,344.8 778.8,333"/>
<polygon class="p" fill="#841a00" points="824,300.6 828.9,299.6 866.2,328.1 871.1,331 871.1,346.7 862.3,350.7 854.4,352.6 848.5,352.6 840.7,358.5 832.8,362.4 828.9,370.3 825,374.2 817.1,376.2 813.2,366.4 799.4,366.4 797.5,351.7 799.4,350.7 819.1,349.7 826.9,349.7"/>
<polygon class="p" fill="#660000" points="871.1,331 887.8,318.3 905.5,306.5 908.4,309.1 916.3,312.4 920.2,314.4 924.1,325.2 923.1,340.9 915.3,356.6 911.3,360.5 899.6,362.4 887.8,361.5 879.9,358.5 872.1,360.5 868.2,366.4 862.3,364.4 854.4,352.6 862.3,350.7 871.1,346.7"/>
<polygon class="p" fill="#660000" points="920.2,314.4 925.1,309.4 960.4,328.1 960.4,347.7 953.5,354.6 952.6,364.4 956.5,372.3 948.6,378.2 940.8,386 927,389.9 922.1,388 919.2,380.1 915.3,378.2 922.1,372.3 919.2,364.4 915.3,356.6 923.1,340.9 924.1,325.2"/>
<polygon class="p" fill="#bd632d" points="960.4,328.1 964.3,325.2 964.3,315.9 1017.3,315.3 1020.3,325.2 1026.2,336.9 1019.3,342.8 1018.3,354.6 1015.4,362.4 1012.4,370.3 1007.5,376.2 1001.6,366.4 997.7,376.2 985.9,378.2 976.1,381.1 966.3,376.2 960.4,380.1 956.5,372.3 952.6,364.4 953.5,354.6 960.4,347.7"/>
<polygon class="p" fill="#ca7f54" points="1019.3,342.8 1026.2,336.9 1033.1,346.7 1040.9,356.6 1048.8,364.4 1044.8,366.4 1037,357.5 1027.2,353.6 1018.3,355.6"/>
<polygon class="p" fill="#e3b7a1" points="1043.9,368.3 1048.8,365.4 1049.7,370.3 1044.8,373.2"/>
<polygon class="p" fill="#bd632d" points="1018.3,355.6 1027.2,353.6 1037,357.5 1044.8,366.4 1043.9,368.3 1044.8,373.2 1050.7,380.1 1060.5,386 1070.4,388 1060.5,399.7 1050.7,405.6 1040.9,409.6 1031.1,409.6 1019.3,405.6 1013.4,399.7 1008.5,389.9 1003.6,386 1007.5,376.2 1012.4,370.3 1015.4,362.4"/>
<polygon class="p" fill="#660000" points="1046.8,374.2 1054.6,376.2 1068.4,372.3 1084.1,368.3 1085.1,376.2 1080.2,389.9 1072.3,405.6 1060.5,421.3 1048.8,433.1 1041.9,438 1039.9,425.3 1040.9,413.5 1044.8,408.6 1050.7,405.6 1060.5,399.7 1070.4,388 1060.5,386 1050.7,380.1"/>
<polygon class="p" fill="#d59a77" points="1008.5,407.6 1019.3,405.6 1031.1,409.6 1040.9,409.6 1044.8,408.6 1040.9,413.5 1039.9,425.3 1041.9,438 1035,446.9 1030.1,453.7 1025.2,450.8 1009.5,437 1007.5,429.2 1013.4,419.4"/>
<polygon class="p" fill="#bd632d" points="960.4,380.1 966.3,376.2 976.1,381.1 985.9,378.2 997.7,376.2 1001.6,366.4 1007.5,376.2 1003.6,386 1008.5,389.9 1013.4,399.7 1019.3,405.6 1008.5,407.6 999.7,410.5 991.8,411.5 984,407.6 976.1,403.7 968.3,395.8"/>
<polygon class="p" fill="#660000" points="922.1,391.9 927,389.9 940.8,386 948.6,378.2 956.5,372.3 960.4,380.1 968.3,395.8 976.1,403.7 966.3,402.7 956.5,405.6 948.6,407.6 940.8,403.7 934.9,409.6 929,411.5 923.1,405.6 919.2,397.8"/>
<polygon class="p" fill="#a43c06" points="915.3,364.4 919.2,369.3 921.2,376.2 915.3,378.2 919.2,380.1 922.1,388 922.1,391.9 919.2,397.8 923.1,405.6 929,411.5 925.1,419.4 911.3,418.4 897.6,418.4 895.6,409.6 892.7,403.7 895.6,395.8 901.5,393.9 907.4,386 911.3,376.2"/>
<polygon class="p" fill="#841a00" points="868.2,366.4 872.1,360.5 879.9,358.5 887.8,361.5 899.6,362.4 911.3,360.5 915.3,364.4 911.3,376.2 907.4,386 901.5,393.9 895.6,395.8 891.7,403.7 883.9,406.6 878,405.6 874,397.8 864.2,395.8 865.2,384 868.2,374.2"/>
<polygon class="p" fill="#a43c06" points="856.4,374.2 862.3,371.3 865.2,366.4 868.2,367.4 868.2,374.2 865.2,384 864.2,395.8 859.3,396.8 860.3,386"/>
<polygon class="p" fill="#ca7f54" points="854.4,374.2 856.4,374.2 860.3,386 859.3,396.8 856.4,397.8 855.4,386"/>
<polygon class="p" fill="#ca7f54" points="839.7,374.2 854.4,373.2 855.4,386 856.4,397.8 848.5,402.7 839.7,404.7 837.7,395.8 838.7,384"/>
<polygon class="p" fill="#bd632d" points="828.9,370.3 832.8,362.4 840.7,358.5 848.5,352.6 854.4,352.6 862.3,364.4 865.2,366.4 862.3,371.3 856.4,374.2 854.4,373.2 839.7,374.2 832.8,377.2 827.9,375.2"/>
<polygon class="p" fill="#bd632d" points="816.1,378.2 825,374.2 827.9,375.2 832.8,377.2 839.7,374.2 838.7,384 837.7,395.8 839.7,404.7 828.9,403.7 818.1,406.6 814.2,397.8 815.2,388"/>
<polygon class="p" fill="#bd632d" points="784.7,368.3 789.6,366.4 799.4,366.4 813.2,366.4 817.1,376.2 816.1,378.2 815.2,388 812.2,391.9 807.3,387 803.4,386 797.5,378.2 793.6,378.2 789.6,373.2"/>
<polygon class="p" fill="#bd632d" points="778.8,345.8 787.7,343.8 795.5,345.8 799.4,350.7 797.5,351.7 799.4,366.4 789.6,366.4 777.9,365.4 775.9,358.5 773.9,353.6"/>
<polygon class="p" fill="#ca7f54" points="777.9,365.4 789.6,366.4 784.7,368.3 781.8,370.3 777.9,369.3"/>
<polygon class="p" fill="#bd632d" points="793.6,378.2 797.5,378.2 803.4,386 799.4,391.9 794.5,389.9 791.6,384"/>
<polygon class="p" fill="#bd632d" points="799.4,391.9 803.4,386 807.3,387 812.2,391.9 814.2,397.8 818.1,406.6 809.3,401.7 803.4,395.8"/>
<polygon class="p" fill="#bd632d" points="895.6,419.4 903.5,419.4 903.5,424.3 896.6,424.9"/>
<polygon class="p" fill="#ca7f54" points="895.6,425.3 903.5,424.3 903.5,419.4 911.3,418.4 916.3,421.3 917.2,433.1 915.3,441 907.4,442.9 903.5,448.8 898.6,441 892.7,435.1"/>
<polygon class="p" fill="#bd632d" points="916.3,421.3 925.1,419.4 929,411.5 936.9,411.5 933.9,425.3 930,433.1 925.1,442.9 922.1,450.8 915.3,454.7 907.4,453.7 903.5,448.8 907.4,442.9 915.3,441 917.2,433.1"/>
<polygon class="p" fill="#660000" points="936.9,411.5 934.9,409.6 940.8,403.7 948.6,407.6 956.5,405.6 966.3,402.7 976.1,403.7 984,407.6 991.8,411.5 993.8,417.4 989.9,425.3 987.9,435.1 985.9,442.9 985,450.8 985.6,451.8 988.6,463.6 993.5,475.3 989.6,473.4 982.7,475.3 981.7,489.1 987.6,493 986.6,498.9 981.7,495 977.8,493 969.9,489.1 962.1,488.1 953.2,487.1 951.3,467.5 942.4,466.5 940.5,470.4 930.7,471.4 928.7,460.6 908.3,460 907.1,455.7 915.3,454.7 922.1,450.8 925.1,442.9 930,433.1 933.9,425.3"/>
<polygon class="p" fill="#a43c06" points="991.8,411.5 999.7,410.5 1008.5,407.6 1013.4,419.4 1007.5,429.2 1003.6,430.2 999.7,429.2 995.8,435.1 987.9,435.1 989.9,425.3 993.8,417.4"/>
<polygon class="p" fill="#ca7f54" points="985,439 991.8,436.1 993.8,442.9 987.9,444.9 984,443.9"/>
<polygon class="p" fill="#841a00" points="985.9,444.9 992.8,443.9 991.8,450.8 987.9,452.8"/>
<polygon class="p" fill="#a43c06" points="993.8,442.9 998.7,442.9 1004.6,442.9 1008.5,437 1009.5,437 1025.2,450.8 1030.1,453.7 1032.8,459.6 1031.8,471.4 1035.7,485.2 1022.9,490.1 1012.1,489.1 1009.2,491 1007.2,480.2 1004.3,479.3 993.5,475.3 988.6,463.6 985.6,451.8 987.9,452.8 991.8,450.8 992.8,443.9"/>
<polygon class="p" fill="#ffffff" points="997.7,432.1 1003.6,429.2 1009.5,431.2 1008.5,437 1004.6,442.9 998.7,442.9 996.7,438"/>
<circle class="p" fill="#ca7f54" cx="882.9" cy="425.3" r="3.4"/>
<polygon class="p" fill="#045c94" points="773.9,282.9 776.9,282 777.9,284.3 774.9,284.9"/>
<polygon class="p" fill="#045c94" points="780.8,281.6 784.7,281 785.3,283.5 781.8,283.9"/>
<polygon class="p" fill="#ca7f54" points="1094.9,364.8 1098.8,364.4 1099.4,366 1095.5,366.4"/>
<circle class="p" fill="#e6e6e6" cx="1106.1" cy="450.8" r="3.4"/>
<polygon class="p" fill="#841a00" points="908.3,460 928.7,460.6 930.7,471.4 940.5,470.4 942.4,466.5 951.3,467.5 953.2,487.1 962.1,488.1 960.1,495 952.3,498.9 953.2,514.6 957.2,521.5 946.4,522.4 934.6,519.5 922.8,520.5 913,518.5 906.1,519.5 906.1,510.7 910.1,498.9 914,489.1 912,475.3 909.1,465.5"/>
<polygon class="p" fill="#bd632d" points="962.1,488.1 969.9,489.1 977.8,493 981.7,495 986.6,498.9 987.6,493 981.7,489.1 982.7,475.3 989.6,473.4 993.5,475.3 1004.3,479.3 1006.3,491 1005.3,502.8 997.4,504.8 989.6,508.7 985.6,511.7 977.8,518.5 971.9,522.4 966,521.5 957.2,521.5 953.2,514.6 952.3,498.9 960.1,495"/>
<polygon class="p" fill="#a43c06" points="1012.1,489.1 1022.9,490.1 1035.7,485.2 1036.7,504.8 1032.8,514.6 1022.9,520.5 1015.1,528.3 1009.2,534.2 1011.2,542.1 1012.1,553.9 1005.3,559.7 998.4,563.7 997.4,568.6 995.5,563.7 994.5,546 997.4,538.2 1001.3,526.4 1000.4,518.5 993.5,511.7 989.6,508.7 997.4,504.8 1005.3,502.8 1008.2,504.8 1010.2,515.6 1013.1,516.6 1015.1,508.7 1011.2,502.8 1009.2,491"/>
<polygon class="p" fill="#ca7f54" points="1004.3,479.3 1007.2,480.2 1009.2,491 1011.2,502.8 1015.1,508.7 1013.1,516.6 1010.2,515.6 1008.2,504.8 1005.3,502.8 1006.3,491"/>
<polygon class="p" fill="#ca7f54" points="971.9,522.4 977.8,518.5 985.6,511.7 993.5,511.7 1000.4,518.5 1001.3,526.4 997.4,538.2 994.5,546 985.6,545 977.8,540.1 973.9,532.3 967,525.4"/>
<polygon class="p" fill="#e3b7a1" points="947.4,523.4 957.2,521.5 966,521.5 967,525.4 973.9,532.3 977.8,540.1 982.7,544 973.9,553.9 968,561.7 960.1,562.7 954.2,561.7 951.3,567.6 946.4,569.6 944.4,559.7 942.4,557.8 943.4,544 946.4,542.1"/>
<polygon class="p" fill="#d59a77" points="906.1,519.5 913,518.5 922.8,520.5 934.6,519.5 946.4,522.4 957.2,521.5 947.4,523.4 946.4,542.1 943.4,544 942.4,557.8 941.5,577.4 934.6,579.4 926.7,576.4 920.9,561.7 916.9,546 911,532.3"/>
<polygon class="p" fill="#efd6cb" points="926.7,576.4 934.6,579.4 941.5,577.4 942.4,557.8 944.4,559.7 946.4,569.6 951.3,567.6 954.2,561.7 960.1,562.7 968,561.7 973.9,553.9 982.7,544 985.6,545 994.5,546 995.5,563.7 997.4,568.6 998.4,575.5 989.6,589.2 977.8,599 966,605.9 952.3,606.9 940.5,609.8 933.6,606.9 932.6,599 929.7,587.2"/>
<polygon class="p" fill="#d59a77" points="972.9,583.3 977.8,578.4 982.7,580.4 982.7,585.3 976.8,589.2"/>
<circle class="p" fill="#e3b7a1" cx="993.1" cy="567.6" r="3.4"/>
<polygon class="p" fill="#bd632d" points="1053.4,514.6 1064.2,510.7 1071,500.9 1075.9,493 1078.9,498.9 1080.8,508.7 1076.9,518.5 1072,534.2 1066.1,549.9 1062.2,559.7 1054.3,562.7 1049.4,557.8 1046.5,546 1050.4,532.3 1051.4,522.4"/>
<circle class="p" fill="#ca7f54" cx="1051.4" cy="492" r="3.4"/>
<circle class="p" fill="#2878a8" cx="1109.3" cy="533.8" r="3.4"/>
<circle class="p" fill="#efd6cb" cx="1101.9" cy="539.5" r="1.5"/>
<polygon class="p" fill="#ffffff" points="985.6,449.8 987.6,459.6 990.5,469.4 993.5,475.3 991.9,475.7 988,467.5 985.6,457.7"/>
<polygon class="p" fill="#ffffff" points="1007.2,480.2 1009.2,491 1010.8,502.8 1009.4,502.8 1007.8,491 1006.3,481.2"/>
<polygon class="p" fill="#5899be" points="1128.7,35.5 1134.6,33.6 1144.4,36.5 1154.2,38.5 1157.2,41.4 1148.3,42.4 1138.5,40.4 1130.7,38.5"/>
<polygon class="p" fill="#5899be" points="1161.1,40.4 1168,40.4 1175.8,42.4 1169.9,45.3 1161.1,44.9"/>
<polygon class="p" fill="#5899be" points="1285.8,53.2 1293.6,52.2 1303.4,53.6 1311.3,55.2 1307.3,58.1 1295.6,58.1 1288.7,56.1"/>
<polygon class="p" fill="#5899be" points="1315.2,55.5 1325,55.5 1331.9,57.1 1323.1,58.1"/>
<polygon class="p" fill="#5899be" points="1307.3,62 1315.2,62 1319.1,64 1311.3,64.6"/>
<polygon class="p" fill="#ffffff" points="1267.1,164.1 1274,159.2 1277.9,153.3 1275.9,144.5 1279.9,149.4 1280.8,154.3 1276.9,161.2 1271,165.1"/>
<polygon class="p" fill="#5899be" points="1445.8,72 1450.7,71 1456.6,72.6 1451.7,74.4 1446.7,74"/>
<polygon class="p" fill="#5899be" points="1407.5,150.5 1415.3,157.4 1425.2,169.2 1436.9,178 1431,177 1433,182.9 1440.9,189.8 1436.9,190.8 1431,184.9 1425.2,175.1 1417.3,164.3 1409.4,155.5"/>
<polygon class="p" fill="#e3b7a1" points="1003.9,268.3 1008.3,259.6 1010.9,260.5 1009.1,267.4 1006.5,277.8"/>
<polygon class="p" fill="#e6e6e6" points="1009.1,251.8 1011.7,250.9 1010.9,256.1 1008.6,257"/>
<polygon class="p" fill="#e3b7a1" points="1010,239.7 1020.4,238.8 1032.5,237.9 1036,239.7 1032.5,248.3 1023.8,255.3 1015.2,259.6 1010.9,260.5 1010.9,256.1 1011.7,250.9 1009.1,246.6"/>
<polygon class="p" fill="#e3b7a1" points="1008.3,267.4 1010.9,260.5 1015.2,259.6 1023.8,255.3 1025.6,260.5 1018.7,265.7 1020.4,272.6 1013.5,277.8 1007.4,278.7"/>
<circle class="p" fill="#ca7f54" cx="1009.6" cy="264.8" r="3.4"/>
<polygon class="p" fill="#d59a77" points="1036,239.7 1044.6,237.1 1049.8,243.1 1051.6,250.1 1060.2,260.5 1065.4,270.9 1060.2,276.1 1053.3,279.5 1042.9,274.3 1032.5,267.4 1025.6,260.5 1023.8,255.3 1032.5,248.3"/>
<polygon class="p" fill="#e6e6e6" points="1060.2,276.1 1065.4,274.3 1067.2,279.5 1062.8,281.3"/>
<polygon class="p" fill="#efd6cb" points="1007.3,278.6 1013.3,277.9 1020.4,272.5 1018.7,265.7 1025.5,260.4 1032.5,267.4 1042.9,274.2 1053.4,279.6 1060.7,281 1066.7,282.2 1072.8,293.2 1077.6,301.6 1082.5,305.3 1086.1,305.3 1099.5,317.4 1100.7,319.8 1092.2,334.4 1088.6,336.8 1070.4,341.7 1048.5,341.7 1046.1,344.1 1036.4,324.7 1026.7,305.3 1014.6,285.9"/>
<polygon class="p" fill="#5899be" points="1086.1,305.3 1095.8,301.6 1103.1,294.4 1104.8,295.6 1104.3,300.4 1106.8,307.7 1101.9,311.4 1099.5,317.4"/>
<polygon class="p" fill="#e3b7a1" points="1099.5,317.4 1101.9,311.4 1106.8,307.7 1104.3,300.4 1108,305.3 1116.5,311.4 1120.1,316.2 1115.3,324.7 1112.8,332 1104.3,338 1092.2,342.9 1088.6,336.8 1092.2,334.4 1100.7,319.8"/>
<polygon class="p" fill="#ca7f54" points="1046.1,344.1 1048.5,341.7 1070.4,341.7 1088.6,336.8 1092.2,342.9 1084.9,349 1070.4,356.2 1051,363.5 1047.3,356.2"/>
<circle class="p" fill="#bad6e3" cx="1076.2" cy="293.6" r="3.4"/>
<circle class="p" fill="#bad6e3" cx="1081.3" cy="298.5" r="2.6"/>
<polygon class="p" fill="#8dbad3" points="1030,214.2 1041.8,216.2 1049.6,222.1 1059.4,222.1 1064.4,229.9 1069.3,237.8 1084,239.7 1084,235.8 1090.9,234.8 1102.6,233.9 1112.4,237.8 1118.3,245.6 1117.4,253.5 1119.3,261.3 1124.2,269.2 1122.3,275.1 1128.2,282.9 1132.1,290.8 1130.1,300 1112.4,300 1104.6,292.8 1094.8,296.7 1085,292.8 1075.2,282.9 1069.3,275.1 1065.3,273.1 1059.4,261.3 1053.6,247.6 1049.6,237.8 1041.8,237.8 1033.9,229.9"/>
<polygon class="p" fill="#d59a77" points="1044.7,171 1059.4,164.2 1073.2,167.1 1086.9,168.1 1099.7,166.1 1096.7,159.3 1094.8,153.4 1108.5,150.4 1122.3,145.5 1132.1,147.5 1138,151.4 1153.7,150.4 1167.4,159.3 1175.3,167.1 1187,167.1 1198.8,173 1205.7,175.9 1202.8,186.7 1193.9,187.7 1192.9,197.5 1186.1,198.5 1191,206.4 1179.2,208.3 1167.4,207.4 1151.7,210.3 1145.8,216.2 1136,216.2 1124.2,204.4 1108.5,200.5 1100.7,198.5 1094.8,195.6 1086.9,196.6 1088.9,214.2 1080.1,212.3 1077.1,204.4 1065.3,200.5 1072.2,194.6 1069.3,187.7 1061.4,186.7 1055.5,188.7 1049.6,178.9"/>
<polygon class="p" fill="#d59a77" points="1086.9,196.6 1094.8,195.6 1100.7,198.5 1108.5,200.5 1124.2,204.4 1136,216.2 1145.8,216.2 1151.7,218.2 1160.5,217.2 1155.6,222.1 1147.8,223.1 1143.9,227 1145.8,235.8 1139,235.8 1134,231.9 1124.2,226 1114.4,218.2 1104.6,212.3 1098.7,210.3 1094.8,216.2 1088.9,214.2"/>
<polygon class="p" fill="#e3b7a1" points="1080.1,212.3 1088.9,214.2 1094.8,216.2 1098.7,210.3 1104.6,212.3 1114.4,218.2 1124.2,226 1134,231.9 1139,235.8 1136,237.8 1130.1,240.7 1126.2,247.6 1118.3,245.6 1112.4,237.8 1102.6,233.9 1090.9,234.8 1084,235.8 1083,226 1077.1,218.2"/>
<polygon class="p" fill="#e3b7a1" points="1151.7,210.3 1167.4,207.4 1179.2,208.3 1191,206.4 1187,212.3 1179.2,217.2 1167.4,220.1 1159.6,222.1 1160.5,217.2 1151.7,218.2 1145.8,216.2"/>
<polygon class="p" fill="#ca7f54" points="1143.9,227 1147.8,223.1 1155.6,222.1 1159.6,222.1 1167.4,226 1173.3,229.9 1175.3,236.8 1167.4,237.8 1161.5,239.7 1159.6,232.9 1153.7,234.8 1145.8,235.8"/>
<polygon class="p" fill="#841a00" points="1118.3,245.6 1126.2,247.6 1130.1,240.7 1136,237.8 1139,235.8 1145.8,235.8 1153.7,234.8 1159.6,232.9 1161.5,239.7 1167.4,237.8 1175.3,236.8 1167.4,240.7 1163.5,247.6 1159.6,253.5 1159.6,261.3 1155.6,265.3 1147.8,269.2 1143.9,276.1 1134,277 1122.3,275.1 1124.2,269.2 1119.3,261.3 1117.4,253.5"/>
<polygon class="p" fill="#d59a77" points="1167.4,240.7 1175.3,236.8 1183.1,241.7 1187,248.6 1181.2,249.6 1175.3,251.5 1181.2,263.3 1177.2,273.1 1171.3,279 1169.4,284.9 1163.5,288.8 1175.5,277.9 1169.6,281.8 1162.8,287.7 1165.7,295.5 1169.6,302.4 1157.9,306.3 1150,301.4 1132.1,290.8 1128.2,282.9 1122.3,275.1 1134,277 1143.9,276.1 1147.8,269.2 1155.6,265.3 1159.6,261.3 1159.6,253.5 1163.5,247.6"/>
<polygon class="p" fill="#ffffff" points="1095.8,194.6 1098.7,189.7 1105.6,188.7 1103.6,193.6 1099.7,197.5 1097.7,200.5"/>
<polygon class="p" fill="#ffffff" points="1157.6,193.6 1160.5,188.7 1171.3,188.7 1179.2,189.1 1178.2,191.1 1167.4,191.7 1161.5,194.6"/>
<polygon class="p" fill="#e3b7a1" points="1208.6,176.9 1218.5,173 1234.2,169.1 1245.9,167.1 1245,162.2 1253.8,164.2 1265.6,169.1 1283.2,172 1297,175 1310.7,172 1322.5,174 1323.5,182.8 1336.2,182.8 1343.1,188.7 1332.3,193.6 1324.5,197.5 1316.6,198.5 1318.6,204.4 1308.8,210.3 1293.1,214.2 1277.3,211.3 1257.7,209.3 1245.9,202.4 1228.3,194.6 1222.4,186.7 1214.5,182.8"/>
<polygon class="p" fill="#045c94" points="1205.7,175.9 1208.6,176.9 1214.5,182.8 1222.4,186.7 1228.3,194.6 1245.9,202.4 1257.7,209.3 1277.3,211.3 1293.1,214.2 1308.8,210.3 1318.6,204.4 1316.6,198.5 1324.5,197.5 1332.3,193.6 1343.1,188.7 1336.2,182.8 1323.5,182.8 1323.6,174 1329.4,170.1 1327.5,159.3 1335.3,155.3 1347.1,157.3 1358.9,165.2 1368.7,173 1378.5,175.9 1386.4,180.9 1394.2,182.8 1398.2,180.9 1402.1,186.7 1402.1,195.6 1396.2,197.5 1400.1,206.4 1398.2,209.3 1392.3,214.2 1386.4,218.2 1380.5,223.1 1374.6,226 1368.7,222.1 1366.7,219.1 1362.8,220.1 1364.8,226 1355,228 1358.9,231.9 1364.8,236.8 1372.6,235.8 1378.5,237.8 1370.7,245.6 1374.6,251.5 1380.5,259.4 1386.4,267.2 1390.3,275.1 1389.9,275.9 1388.5,279.8 1385.6,289.6 1383.6,299.4 1375.8,309.3 1365.9,312.2 1358.1,318.1 1350.2,320.1 1348.3,323 1344.3,321 1338.5,319.1 1335.5,319.1 1330.6,315.2 1322.8,310.2 1312.9,314.2 1308,314.2 1304.1,319.1 1303.1,319.1 1298.2,313.2 1296.3,307.3 1290.4,305.3 1288.4,299.4 1291.3,294.5 1289.4,287.7 1285.5,283.7 1281.5,279.8 1275.6,281.8 1267.8,285.7 1261.9,291.6 1260.9,291.2 1261.9,286.7 1256,283.7 1248.2,285.7 1244.4,284.7 1231.5,278.6 1219.3,275.1 1203.6,270 1192.9,263.3 1196.9,261.3 1194.9,255.5 1187,248.6 1183.1,241.7 1175.3,236.8 1173.3,229.9 1167.4,226 1171.3,222.1 1179.2,217.2 1187,212.3 1191,206.4 1186.1,198.5 1192.9,197.5 1193.9,187.7 1202.8,186.7"/>
<polygon class="p" fill="#e6e6e6" points="1175.3,251.5 1181.2,249.6 1187,248.6 1194.9,255.5 1196.9,261.3 1192.9,263.3 1203.6,270 1219.3,275.1 1231.5,278.6 1244.4,284.7 1248.2,285.7 1248.2,291.6 1261.9,291.6 1267.8,285.7 1275.6,281.8 1281.5,279.8 1285.5,283.7 1283.5,288.6 1279.6,293.6 1275.6,299.4 1271.7,305.3 1265.8,308.3 1264.8,312.2 1262.9,316.1 1263.9,308.3 1261.9,303.4 1263.9,299.4 1256,299.4 1250.1,296.5 1245.2,294.5 1248.2,302.4 1250.1,315.2 1244.2,318.1 1236.4,325 1226.6,334.8 1220.7,342.6 1215.8,348.5 1215.8,358.3 1214.8,372.1 1212.8,381.9 1208.9,386.8 1205,387.8 1201,381.9 1195.2,368.2 1189.3,352.4 1183.4,336.7 1180.4,326.9 1177.5,319.1 1169.6,322 1163.7,317.1 1159.8,309.3 1169.6,302.4 1165.7,295.5 1162.8,287.7 1169.6,281.8 1175.5,277.9 1169.4,284.9 1171.3,279 1177.2,273.1 1181.2,263.3"/>
<polyline fill="none" stroke="#000" stroke-width="0.5" stroke-opacity="0.35" points="1201.4,271.6 1206.9,276.3 1208.9,280.2 1220.7,286.1 1234.4,290 1244.2,293 1245,285.3"/>
<polygon class="p" fill="#8dbad3" points="1248.2,285.7 1256,283.7 1261.9,286.7 1260.9,291.2 1250.1,291.2"/>
<polygon class="p" fill="#efd6cb" points="1245.2,294.5 1250.1,296.5 1256,299.4 1263.9,299.4 1261.9,303.4 1263.9,308.3 1262.9,316.1 1259,314.2 1256,316.1 1251.1,317.1 1250.1,309.3 1248.2,302.4"/>
<polygon class="p" fill="#e6e6e6" points="1216.7,379.9 1220.7,381.9 1225.6,390.7 1225.6,395.6 1221.7,399.6 1217.7,396.6 1215.8,387.8"/>
<circle class="p" fill="#8dbad3" cx="1159.8" cy="412.3" r="3.4"/>
<polygon class="p" fill="#efd6cb" points="1285.5,283.7 1289.4,287.7 1291.3,294.5 1288.4,299.4 1290.4,305.3 1296.3,307.3 1298.2,313.2 1303.1,319.1 1301.2,322 1295.3,326.9 1292.3,332.8 1295.3,337.7 1291.3,341.7 1294.3,348.5 1299.2,356.4 1302.1,366.2 1303.1,374 1301.2,376 1298.2,364.2 1295.3,354.4 1291.3,344.6 1287.4,338.7 1285.5,346.6 1279.6,346.6 1280.5,336.7 1275.6,332.8 1272.7,325 1267.8,319.1 1264.8,312.2 1265.8,308.3 1271.7,305.3 1275.6,299.4 1279.6,293.6 1283.5,288.6"/>
<polygon class="p" fill="#045c94" points="1292.3,332.8 1295.3,326.9 1301.2,325 1304.1,328.9 1307,334.8 1310,338.7 1316.9,335.8 1322.8,336.7 1328.6,344.6 1329.6,354.4 1320.8,356.4 1316.9,361.3 1318.8,368.2 1313.9,365.2 1310,360.3 1306.1,364.2 1306.1,374 1304.1,379.9 1307,385.8 1311,391.7 1316.9,396.6 1317.8,399.6 1312.9,400.5 1307,395.6 1302.1,389.7 1300.2,382.9 1301.2,376 1303.1,374 1302.1,366.2 1299.2,356.4 1294.3,348.5 1291.3,341.7 1295.3,337.7"/>
<polygon class="p" fill="#efd6cb" points="1304.1,319.1 1308,314.2 1312.9,321 1320.8,323 1323.7,326.9 1320.8,330.9 1326.7,336.7 1333.5,346.6 1339.4,354.4 1334.5,356.4 1329.6,354.4 1328.6,344.6 1322.8,336.7 1316.9,335.8 1310,338.7 1307,334.8 1304.1,328.9 1301.2,325 1301.2,322"/>
<polygon class="p" fill="#bad6e3" points="1308,314.2 1312.9,314.2 1322.8,310.2 1330.6,315.2 1335.5,319.1 1328.6,325 1325.7,330.9 1332.6,338.7 1340.4,346.6 1346.3,354.4 1349.3,364.2 1348.3,372.1 1340.4,376 1334.5,383.9 1330.6,385.8 1329.6,378 1335.5,374 1341.4,366.2 1340.4,360.3 1339.4,354.4 1333.5,346.6 1326.7,336.7 1320.8,330.9 1323.7,326.9 1320.8,323 1312.9,321"/>
<polygon class="p" fill="#e3b7a1" points="1317.8,358.3 1320.8,356.4 1329.6,354.4 1334.5,356.4 1339.4,355.4 1341.4,364.2 1335.5,370.1 1335.5,374 1329.6,376 1324.7,375 1320.8,368.2"/>
<polygon class="p" fill="#045c94" points="1342.4,329.9 1346.3,326.9 1351.2,327.9 1350.2,332.8 1345.3,335.2 1342,333.2"/>
<polygon class="p" fill="#023e7e" points="1389.9,302.4 1393.4,299.4 1395.8,301.4 1395.4,309.3 1393.4,315.5 1390.5,311.2"/>
<polygon class="p" fill="#e6e6e6" points="1310,400.5 1316.9,399.6 1322.8,407.4 1326.7,417.2 1328.6,425.1 1324.7,427 1318.8,423.1 1314.9,415.3 1312,407.4"/>
<polygon class="p" fill="#bad6e3" points="1396.4,334.8 1403.2,333.8 1405.2,340.7 1403.2,348.5 1405.2,354.4 1411.1,358.3 1416,357.4 1415,362.3 1409.1,362.3 1404.2,364.2 1399.3,358.3 1396.4,350.5 1394.4,344.6"/>
<polygon class="p" fill="#bad6e3" points="1407.2,370.1 1413.1,368.2 1417,372.1 1420.9,366.2 1423.9,374 1420.9,379.9 1415,379.9 1409.1,376"/>
<polygon class="p" fill="#bad6e3" points="1410.1,388.8 1417,385.8 1422.9,383.9 1427.8,385.8 1429.7,391.7 1426.8,397.6 1423.9,399.6 1418.9,395.6 1415,390.7 1411.1,392.7"/>
<polygon class="p" fill="#bad6e3" points="1386.6,385.8 1391.5,379 1396.4,373.1 1397.3,375 1392.4,381.9 1388.5,386.8"/>
<circle class="p" fill="#efd6cb" cx="1463.7" cy="389.2" r="3.4"/>
<polygon class="p" fill="#bad6e3" points="1380.5,223.1 1386.4,218.2 1392.3,214.2 1398.2,209.3 1401.1,210.3 1399.1,216.2 1394.2,224 1397.2,228 1402.1,230.9 1396.2,232.9 1392.3,234.8 1387.4,233.9 1386.4,227"/>
<polygon class="p" fill="#023e7e" points="1396.2,232.9 1402.1,230.9 1407,235.8 1410.9,242.7 1411.9,247.6 1406,250.5 1401.1,251.5 1400.1,243.7 1397.2,238.8"/>
<polygon class="p" fill="#023e7e" points="1402.5,257 1405,256.4 1405.4,258 1403.1,258.4"/>
<polygon class="p" fill="#2878a8" points="1437.4,195.6 1443.3,200.5 1449.2,204.4 1457,203.4 1459,206.4 1453.1,211.3 1445.3,209.3 1441.3,212.3 1438.4,208.3 1441.3,204.4"/>
<polygon class="p" fill="#2878a8" points="1445.3,216.2 1449.2,217.2 1454.1,224 1457,231.9 1457,239.7 1460,245.6 1457,249.6 1451.2,251.5 1445.3,253.5 1441.3,255.5 1435.5,251.5 1429.6,253.5 1425.6,251.5 1421.7,253.5 1425.6,247.6 1433.5,245.6 1439.4,244.7 1441.3,237.8 1446.3,233.9 1447.2,226 1445.3,220.1"/>
<polygon class="p" fill="#2878a8" points="1430.5,255.5 1437.4,253.5 1440.4,255.5 1435.5,258.4 1431.1,259"/>
<polygon class="p" fill="#2878a8" points="1418.8,257.4 1422.7,254.5 1426.6,257.4 1428.6,263.3 1426.6,268.2 1422.7,267.2 1420.7,262.3"/>
<polygon class="p" fill="#e6e6e6" points="1287.4,400.5 1295.3,402.5 1303.1,409.4 1311,417.2 1318.8,425.1 1326.7,432.9 1332.6,438.8 1336.5,444.7 1338.5,450 1339.4,458.5 1334.5,459.4 1326.7,450.6 1312.9,450 1309,442.8 1303.1,432.9 1297.2,421.2 1291.3,411.3"/>
<circle class="p" fill="#045c94" cx="1327.7" cy="423.1" r="3.4"/>
<polygon class="p" fill="#e6e6e6" points="1333.7,462.4 1344.9,463.1 1359.9,465.4 1374.8,469.8 1387.3,472.8 1386.8,476.8 1372.3,476.3 1357.4,473.6 1342.4,470.8 1334.4,467.3"/>
<polygon class="p" fill="#e6e6e6" points="1389.8,473.6 1399.8,474.3 1407.3,474.8 1406,476.8 1394.8,476.3"/>
<polygon class="p" fill="#e6e6e6" points="1409.8,474.3 1419.7,473.6 1429.7,472.8 1424.7,475.3 1414.7,476.3"/>
<polygon class="p" fill="#e6e6e6" points="1394.8,479.3 1399.8,478.6 1402.3,481.8 1397.3,482.8"/>
<polygon class="p" fill="#e6e6e6" points="1413.5,483.6 1418.5,478.6 1422.2,477.3 1419.7,481.1 1416,484.3"/>
<polygon class="p" fill="#d59a77" points="1422.2,476.8 1427.2,474.3 1432.2,473.1 1431,475.3 1424.7,477.8"/>
<polygon class="p" fill="#e6e6e6" points="1351.1,423.7 1354.9,420 1361.1,423.7 1362.4,415 1368.6,413.7 1374.8,411.2 1382.3,407.5 1387.3,402.5 1396,402.5 1392.3,407.5 1389.8,415 1396,423.7 1392.3,427.4 1388.6,437.4 1383.6,444.9 1377.3,451.1 1369.8,446.1 1362.4,447.4 1356.1,444.9 1353.6,434.9 1349.9,428.7"/>
<polyline fill="none" stroke="#000" stroke-width="0.5" stroke-opacity="0.35" points="1354.9,420 1361.1,424.9 1372.3,422.4 1379.8,415 1382.3,407.5"/>
<circle class="p" fill="#bad6e3" cx="1376.1" cy="406.7" r="3.4"/>
<polygon class="p" fill="#e6e6e6" points="1401,432.4 1404.8,424.9 1414.7,423.7 1423.5,422 1424.7,424.9 1417.2,427.4 1409.8,428.7 1406,434.9 1412.2,437.4 1417.2,442.4 1412.2,444.9 1416,453.6 1413.5,458.6 1409.8,449.9 1406,446.1 1402.3,458.6 1398.5,458.6 1396,447.4 1397.3,437.4"/>
<polygon class="p" fill="#e6e6e6" points="1435.9,418.7 1439.7,417 1440.9,423.7 1438.4,432.4 1435.9,431.2 1437.2,424.9"/>
<polygon class="p" fill="#e6e6e6" points="1437.2,446.1 1444.7,444.9 1449.7,446.1 1447.2,448.6 1438.4,448.6"/>
<polygon class="p" fill="#e6e6e6" points="1429.7,446.9 1433.4,446.1 1434.2,448.6 1430.2,449.4"/>
<polygon class="p" fill="#e6e6e6" points="1452.2,433.7 1459.6,432.4 1465.9,434.9 1467.1,439.9 1462.1,443.7 1459.6,448.6 1467.1,449.9 1472.1,443.7 1479.6,438.7 1487.1,437.9 1497.1,443.7 1495.8,477.3 1489.6,473.6 1484.6,473.6 1480.8,472.3 1485.8,466.1 1479.6,458.6 1474.6,453.6 1467.1,451.1 1459.6,448.6"/>
<polygon class="p" fill="#d59a77" points="1497.1,443.7 1507,447.4 1514.5,452.4 1520.8,456.1 1523.2,461.1 1527,464.9 1524.5,468.6 1529.5,474.8 1535.7,479.8 1539.5,483.6 1533.2,484.8 1524.5,479.8 1517,473.6 1509.5,472.3 1503.3,476.1 1495.8,477.3"/>
<polygon class="p" fill="#d59a77" points="1529.5,459.4 1537,459.9 1544.4,456.1 1548.2,451.1 1551.9,452.4 1549.4,458.6 1542,462.4 1534.5,462.4"/>
<polygon class="p" fill="#d59a77" points="1539.5,442.9 1545.7,446.1 1550.7,449.9 1551.9,452.4 1548.2,449.9 1542,446.1"/>
<polygon class="p" fill="#ca7f54" points="1558.2,456.9 1561.9,461.1 1564.4,466.1 1561.9,465.4 1559.4,461.1"/>
<polygon class="p" fill="#ca7f54" points="1566.9,464.9 1570.6,467.8 1569.4,469.3 1566.4,466.8"/>
<polygon class="p" fill="#ca7f54" points="1574.4,468.6 1580.6,473.6 1579.4,474.8 1574.4,471.1"/>
<polygon class="p" fill="#ca7f54" points="1583.1,472.3 1586.9,477.3 1588.1,481.1 1585.6,479.8 1583.1,474.8"/>
<polygon class="p" fill="#ca7f54" points="1579.4,478.6 1584.4,481.1 1583.1,482.8 1579.4,480.3"/>
<polygon class="p" fill="#ca7f54" points="1586.9,483.6 1590.6,486.1 1589.3,486.8 1586.9,484.8"/>
<polygon class="p" fill="#ca7f54" points="1607.3,506 1609.3,509.8 1608.8,513.5 1607.3,511"/>
<polygon class="p" fill="#ca7f54" points="1610.6,513.5 1612.3,517.2 1611.3,519.7"/>
<polygon class="p" fill="#ca7f54" points="1613,521 1614.3,524.7 1613.3,527.2"/>
<polygon class="p" fill="#ca7f54" points="1614.8,527.2 1615.8,531 1614.8,532.2"/>
<polygon class="p" fill="#e6e6e6" points="1589.8,534.7 1593.1,536.7 1599.3,543.4 1600.6,545.9 1596.8,544.7 1591.8,539.7"/>
<polygon class="p" fill="#e3b7a1" points="1652.2,521.7 1656.7,520.2 1659.2,522.2 1656.2,524.7 1653,524.2"/>
<polygon class="p" fill="#d59a77" points="1659.2,516 1665.4,514 1666.7,515.2 1661.7,517.2"/>
<circle class="p" fill="#ca7f54" cx="1608.1" cy="419.2" r="3.4"/>
<circle class="p" fill="#ca7f54" cx="1704.6" cy="500.3" r="3.4"/>
<circle class="p" fill="#d59a77" cx="1646.7" cy="420" r="3.4"/>
<circle class="p" fill="#d59a77" cx="1665.4" cy="472.3" r="3.4"/>
<circle class="p" fill="#d59a77" cx="1682.4" cy="539.2" r="3.4"/>
<polygon class="p" fill="#8dbad3" points="1444.7,489.8 1452.2,487.8 1455.9,491 1462.1,493.5 1469.6,492.3 1474.6,496 1469.6,502.3 1467.1,507.3 1474.6,513.5 1484.6,521 1489.6,517.2 1493.3,504.8 1497.1,492.3 1500.8,486.1 1503.3,492.3 1505.8,502.3 1510.8,509.8 1512,522.2 1517,529.7 1522,535.9 1523.2,544.7 1528.2,549.7 1533.2,562.1 1532,574.6 1528.2,584.6 1522,594.6 1515,604 1508.8,605.5 1501,615.3 1495.1,623.2 1487.2,626.1 1477.4,630.1 1471.5,627.1 1465.6,630.1 1457.8,628.1 1452.9,623.2 1453.9,615.3 1451.9,609.4 1453.9,600.6 1448,606.5 1442.1,611.4 1439.1,607.5 1438.2,599.6 1434.2,595.7 1426.4,593.7 1418.5,594.7 1408.7,596.7 1398.9,599.6 1391,604.5 1381.2,605.5 1371.4,607.5 1361.6,611.4 1353.7,609.4 1352.8,604.5 1355.7,599.6 1358.6,591.8 1359.9,587.1 1358.6,574.6 1357.4,564.6 1359.9,554.7 1362.4,545.9 1372.3,539.7 1384.8,534.7 1394.8,531 1402.3,524.7 1406,517.2 1414.7,511 1422.2,504.8 1429.7,502.3 1434.7,507.3 1440.9,504.8 1443.4,497.3"/>
<polygon class="p" fill="#8dbad3" points="1462.7,641.8 1469.6,641.2 1477.4,640.9 1475.5,646.7 1469.6,652.6 1464.7,655.6 1460.7,654.6 1461.3,647.7"/>
<polygon class="p" fill="#8dbad3" points="1601.1,609.4 1604,609.4 1606,616.3 1605,621.2 1608,626.1 1615.8,624.8 1612.9,629.1 1605,635.9 1595.2,642.8 1590.3,644.8 1588.3,642.8 1593.2,636.9 1591.3,633 1597.2,630.1 1602.1,623.2 1602.1,616.3"/>
<polygon class="p" fill="#8dbad3" points="1536.3,666.4 1544.2,660.5 1555.9,654.6 1567.7,648.7 1577.5,642.8 1583.4,639.9 1586.4,642.8 1581.5,647.7 1571.6,654.6 1559.9,662.4 1548.1,669.3 1541.2,671.3 1537.3,669.3"/>
<polygon class="p" fill="#8dbad3" points="1535.3,672.3 1538.3,671.3 1539.3,673.2 1536.3,673.8"/>
<circle class="p" fill="#e3b7a1" cx="1575.2" cy="391.8" r="3.4"/>
<circle class="p" fill="#e3b7a1" cx="1632.9" cy="394.6" r="3.4"/>
<polygon class="p" fill="#8dbad3" points="149.9,327.6 153.2,325.7 155.8,328.5 154.5,331.3 151.4,331.8"/>
<polygon class="p" fill="#8dbad3" points="146.2,320.7 149,321.5 150.3,323.3 147.7,323"/>
<polygon class="p" fill="#8dbad3" points="142.5,317.8 144.7,318.1 144.3,319.6 142.5,319.3"/>
<polygon class="p" fill="#8dbad3" points="136.6,315.6 138.4,315.6 138.4,316.8 136.6,316.7"/>
<polygon class="p" fill="#e0e0e0" points="458.5,847.9 423.9,837 449.3,839.4 472.4,838.2 507,838.2 490.9,837 456.2,827.8 433.1,826.7 456.2,824.3 426.2,818.6 407.7,819.7 393.9,816.3 398.5,811.6 414.6,809.3 423.9,805.9 437.7,803.6 449.3,801.2 465.5,800.1 467.8,796.6 479.3,797.8 495.5,800.1 509.3,798.9 518.6,795.5 527.8,800.1 539.4,801.2 541.7,793.2 553.2,790.9 559,793.2 555.5,797.8 560.1,802.4 564.8,795.5 576.3,794.3 587.9,795.5 599.4,796.6 610.9,797.8 620.2,796.6 634,796.6 647.9,794.3 651.4,788.5 645.6,782.8 638.7,777 636.4,770.1 641,763.1 647.9,757.4 657.1,752.7 666.4,751.6 659.4,756.2 652.5,760.8 645.6,767.8 644.4,773.5 650.2,777 657.1,779.3 664.1,786.2 671,790.9 675.6,795.5 673.3,802.4 666.4,805.9 657.1,807 645.6,805.9 631.7,807 638.7,811.6 650.2,813.9 647.9,820.9 657.1,824.3 671,826.7 684.8,829 698.7,830.1 712.6,831.3 721.8,827.8 716,823.2 721.8,816.3 733.3,813.9 742.6,818.6 740.3,823.6 749.5,824.3 763.4,822 764.3,818.8 772.3,812.8 812.8,806.7 824.9,792.5 845.1,786.5 861.3,788.5 893.6,782.4 917.8,782.4 950.2,782.4 978.5,776.4 990.6,780.4 1014.9,772.3 1039.1,765.1 1059.3,768.3 1099.7,773.1 1083.6,790.5 1091.7,790.5 1124,776.4 1144.2,770.3 1168.5,767.5 1204.8,764.3 1225,765.1 1245.3,767.5 1265.5,768.3 1305.9,766.3 1330.1,763.4 1354.4,767.5 1374.6,774.4 1394.8,782.4 1417,789.3 1386.7,800.6 1362.5,810.7 1338.2,818.8 1318,826.9 1326.1,833.8 1372.6,837 1338.2,847.9"/>
<polygon class="p" fill="#e0e0e0" points="615.6,781.6 620.2,780.7 621.3,783 617.4,783.9"/>
<polygon class="p" fill="#e0e0e0" points="624.8,778.2 634,777 643.3,783.9 647.9,790.9 638.7,793.2 634,788.5 629.4,783.9"/>
<polygon class="p" fill="#e0e0e0" points="661.8,818.6 669.8,816.3 671,818.6 664.1,820.9"/>
<polygon class="p" fill="#e0e0e0" points="680.2,822 694.1,819.7 698.7,824.3 689.5,825"/>
</svg>
<div id="bar"></div>
<div id="legend">
<div class="row"><span class="sw" style="background:#660000"></span><span class="lb">6.0–6.9</span></div>
<div class="row"><span class="sw" style="background:#841a00"></span><span class="lb">5.0–5.9</span></div>
<div class="row"><span class="sw" style="background:#a43c06"></span><span class="lb">4.5–4.9</span></div>
<div class="row"><span class="sw" style="background:#bd632d"></span><span class="lb">4.0–4.4</span></div>
<div class="row"><span class="sw" style="background:#ca7f54"></span><span class="lb">3.5–3.9</span></div>
<div class="row"><span class="sw" style="background:#d59a77"></span><span class="lb">3.0–3.4</span></div>
<div class="row"><span class="sw" style="background:#e3b7a1"></span><span class="lb">2.6–2.9</span></div>
<div class="row"><span class="sw" style="background:#efd6cb"></span><span class="lb">2.3–2.5</span></div>
<div class="row"><span class="sw" style="background:#e6e6e6"></span><span class="lb">2.0–2.2</span></div>
<div class="row"><span class="sw" style="background:#bad6e3"></span><span class="lb">1.8–1.9</span></div>
<div class="row"><span class="sw" style="background:#8dbad3"></span><span class="lb">1.6–1.7</span></div>
<div class="row"><span class="sw" style="background:#5899be"></span><span class="lb">1.4–1.5</span></div>
<div class="row"><span class="sw" style="background:#2878a8"></span><span class="lb">1.2–1.3</span></div>
<div class="row"><span class="sw" style="background:#045c94"></span><span class="lb">1.0–1.1</span></div>
<div class="row"><span class="sw" style="background:#023e7e"></span><span class="lb">0.8–0.9</span></div>
</div>
<div id="dash"></div>
<div id="cap">A 2023 map of countries by fertility rate. Blue indicates negative fertility rates. Red indicates positive rates.</div>
<div id="year">2023</div>
<div id="btn"><svg width="22" height="28" viewBox="0 0 22 28"><circle cx="10.5" cy="17.3" r="3.1" fill="#fff"/><circle cx="10.5" cy="17.3" r="5.6" fill="none" stroke="#fff" stroke-width="1.35" stroke-dasharray="1.3 2.22"/><path d="M4.6 11.4 A8.3 8.3 0 1 0 16.9 12 C15.6 9.6 10.6 9.4 10.5 5.2" fill="none" stroke="#fff" stroke-width="2.1"/><path d="M10.5 0.8 L13.8 5.9 L7.2 5.9 Z" fill="#fff"/></svg><span>More details</span></div>
</body></html>
